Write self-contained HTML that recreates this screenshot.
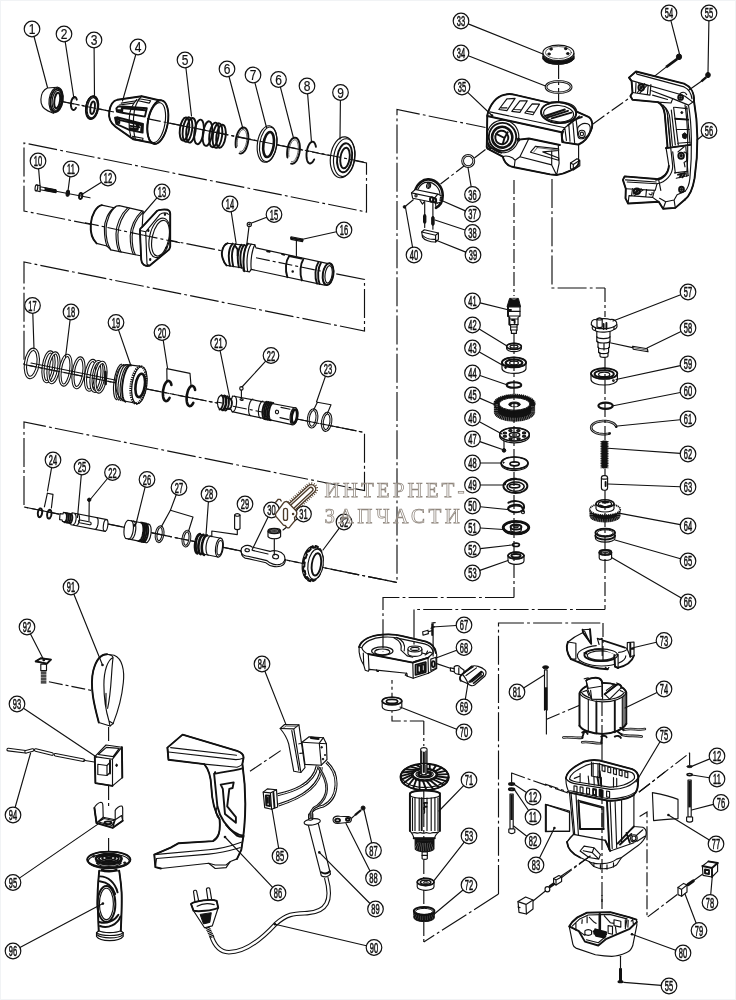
<!DOCTYPE html>
<html lang="ru"><head><meta charset="utf-8"><title>Схема перфоратора</title>
<style>
html,body{margin:0;padding:0;background:#fff;}
body{width:736px;height:1000px;overflow:hidden;font-family:"Liberation Sans",sans-serif;}
svg{display:block;will-change:transform}
.l{fill:none;stroke:#111;stroke-width:1.15;stroke-linecap:round;stroke-linejoin:round}
.w{fill:#fff;stroke:#111;stroke-width:1.15;stroke-linejoin:round}
.k{fill:#111;stroke:#111;stroke-width:1;stroke-linejoin:round}
.h{fill:none;stroke:#111;stroke-width:1.9;stroke-linecap:round;stroke-linejoin:round}
.hh{fill:none;stroke:#111;stroke-width:2.6;stroke-linecap:round;stroke-linejoin:round}
.f{fill:none;stroke:#222;stroke-width:.7;stroke-linecap:round;stroke-linejoin:round}
.d{fill:none;stroke:#111;stroke-width:1.15;stroke-dasharray:29 3.2 2.8 3.2}
.d2{fill:none;stroke:#111;stroke-width:1.15;stroke-dasharray:14 3 3 3}
.b{fill:#fff;stroke:#111;stroke-width:1.2}
.t{font-family:"Liberation Sans",sans-serif;font-size:15px;text-anchor:middle;fill:#111;stroke:#111;stroke-width:.55}
.t1{stroke-width:.2}
.wm{font-family:"Liberation Serif",serif;font-size:21px;fill:#fff;fill-opacity:.5;stroke:#8f867d;stroke-width:.75}
</style></head>
<body>
<svg width="736" height="1000" viewBox="0 0 736 1000">
<rect x="0" y="0" width="736" height="1000" fill="#fff"/>
<polyline class="d" points="50.0,99.0 366.5,163.0 366.5,212.0 24.0,143.0 24.0,211.0 364.5,279.5 364.5,331.0 24.0,262.0 24.0,364.5 364.5,432.5 364.5,490.6 24.0,422.0 24.0,507.0 397.0,582.5 397.0,109.5 485.5,127.5"/>
<polyline class="d2" points="485.5,149.5 440.5,184.0"/>
<polyline class="d" points="552.0,179.0 552.0,288.0 605.0,288.0"/>
<polyline class="d2" points="558.6,65.0 558.6,104.0"/>
<polyline class="d2" points="593.0,124.0 632.0,96.0"/>
<polyline class="d" points="498.5,894.0 498.5,623.0 603.0,623.0"/>
<polyline class="d" points="498.5,894.0 423.8,942.0"/>
<polyline class="d2" points="423.8,721.0 392.0,721.0 392.0,680.0"/>
<path class="w" d="M 47.4,88.0 L 57.2,87.2 L 53.4,113.3 L 47.9,110.9 C 43.0,108.7 40.7,104.3 40.9,99.5 C 41.1,94.6 43.6,89.7 47.4,88.0 Z"/>
<ellipse class="w" cx="56.1" cy="100.0" rx="7.0" ry="12.8" transform="rotate(8 56.1 100.0)"/>
<ellipse class="h" cx="56.4" cy="100.1" rx="5.9" ry="11.5" transform="rotate(8 56.4 100.1)"/>
<ellipse class="l" cx="56.8" cy="100.3" rx="4.6" ry="10.0" transform="rotate(8 56.8 100.3)"/>
<ellipse class="h" cx="57.2" cy="100.5" rx="2.8" ry="7.8" transform="rotate(8 57.2 100.5)"/>
<polyline class="h" points="76.0,107.7 75.5,108.5 75.0,109.2 74.5,109.6 74.0,109.9 73.4,110.0 72.9,109.8 72.4,109.5 72.0,109.0 71.6,108.3 71.3,107.5 71.1,106.5 70.9,105.4 70.9,104.3 71.0,103.2 71.2,102.0 71.4,100.9 71.8,99.9 72.2,99.0 72.6,98.3 73.1,97.7 73.7,97.2 74.2,97.0 74.8,97.0 75.3,97.2 75.8,97.6 76.2,98.1 76.5,98.9 76.8,99.7"/>
<ellipse class="w" cx="92.0" cy="107.6" rx="6.3" ry="11.7" transform="rotate(8 92.0 107.6)"/>
<ellipse class="h" cx="92.1" cy="107.6" rx="6.1" ry="11.5" transform="rotate(8 92.1 107.6)"/>
<ellipse class="l" cx="92.3" cy="107.7" rx="5.0" ry="10.2" transform="rotate(8 92.3 107.7)"/>
<ellipse class="h" cx="92.6" cy="107.8" rx="2.2" ry="6.3" transform="rotate(8 92.6 107.8)"/>
<path class="w" d="M 117.4,99.7 L 141.6,96.2 L 161.1,100.7 C 165.9,104.0 167.8,113.5 166.8,124.9 C 165.9,134.5 161.1,143.0 152.6,143.0 L 133.5,139.4 L 115.5,126.8 C 110.7,123.0 108.3,117.3 109.3,111.6 C 110.2,105.0 113.6,100.7 117.4,99.7 Z"/>
<path class="h" d="M 117.4,99.7 L 141.6,96.2 L 161.1,100.7 M 115.5,126.8 L 133.5,139.4 L 152.6,143.0 M 117.4,99.7 C 113.6,100.7 110.2,105.0 109.3,111.6 C 108.3,117.3 110.7,123.0 115.5,126.8"/>
<ellipse class="w" cx="157.8" cy="122.1" rx="10.0" ry="22.1" transform="rotate(10 157.8 122.1)"/>
<ellipse class="h" cx="157.8" cy="122.1" rx="10.0" ry="22.1" transform="rotate(10 157.8 122.1)"/>
<ellipse class="l" cx="156.6" cy="122.6" rx="8.4" ry="20.2" transform="rotate(10 156.6 122.6)"/>
<path class="l" d="M 136.9,99.3 C 132.6,104.0 129.3,111.6 129.3,118.3 C 128.8,125.9 129.5,131.6 130.7,135.9 M 141.6,96.2 C 137.3,100.2 134.0,108.8 133.5,118.3 C 133.1,127.8 134.0,134.5 135.4,139.7"/>
<path class="h" d="M 116.4,108.3 L 118.3,106.4 L 122.1,106.7 L 121.2,112.6 L 116.9,111.6 Z M 122.6,106.4 L 146.8,108.3 L 144.9,116.6 L 122.1,112.8 Z M 124.0,108.3 L 144.9,110.2 M 116.9,109.9 L 121.4,110.5"/>
<path class="h" d="M 115.0,117.8 L 117.8,117.3 L 143.0,124.0 L 142.6,132.6 L 128.8,129.7 L 116.4,124.0 Z M 116.9,119.2 L 119.3,119.7 L 119.3,123.0 L 116.9,122.1 Z M 120.2,120.2 L 141.6,125.4 L 141.1,130.7 M 130.2,125.9 L 139.2,127.3 M 136.9,125.4 L 139.2,127.3 L 136.4,128.9 M 130.2,128.3 L 137.8,129.5"/>
<path class="l" d="M 139.2,98.8 L 150.7,100.7 L 149.2,103.1 L 138.3,100.7 Z M 132.6,136.4 L 143.0,138.3 L 142.6,140.4 L 133.5,138.8 Z M 121.2,103.1 L 136.4,100.7 M 119.3,105.0 L 133.5,103.1"/>
<ellipse class="h" cx="184.5" cy="129.0" rx="4.6" ry="11.6" transform="rotate(8 184.5 129.0)"/>
<ellipse class="h" cx="187.5" cy="129.6" rx="4.6" ry="12.4" transform="rotate(8 187.5 129.6)"/>
<ellipse class="h" cx="191.0" cy="130.3" rx="4.6" ry="12.4" transform="rotate(8 191.0 130.3)"/>
<ellipse class="h" cx="199.0" cy="131.9" rx="4.6" ry="12.4" transform="rotate(8 199.0 131.9)"/>
<ellipse class="h" cx="207.5" cy="133.6" rx="4.6" ry="12.4" transform="rotate(8 207.5 133.6)"/>
<ellipse class="h" cx="214.0" cy="134.9" rx="4.6" ry="12.4" transform="rotate(8 214.0 134.9)"/>
<ellipse class="h" cx="217.5" cy="135.6" rx="4.6" ry="12.4" transform="rotate(8 217.5 135.6)"/>
<ellipse class="h" cx="221.0" cy="136.3" rx="4.6" ry="11.6" transform="rotate(8 221.0 136.3)"/>
<polyline class="h" points="235.9,147.3 235.6,145.0 235.6,142.6 235.8,140.0 236.2,137.5 236.9,135.1 237.7,132.9 238.7,131.0 239.8,129.5 241.0,128.3 242.3,127.6 243.5,127.4 244.7,127.7 245.7,128.4 246.7,129.6 247.4,131.2 248.0,133.2 248.3,135.4 248.4,137.8 248.3,140.3 247.9,142.8 247.3,145.3 246.5,147.5 245.6,149.5 244.5,151.2 243.3,152.4 242.1,153.2 240.8,153.6 239.6,153.4"/>
<polyline class="f" points="237.4,146.2 237.2,144.3 237.2,142.3 237.4,140.2 237.8,138.1 238.3,136.1 238.9,134.3 239.7,132.7 240.5,131.4 241.4,130.4 242.4,129.8 243.3,129.6 244.1,129.8 244.9,130.4 245.6,131.4 246.1,132.7 246.5,134.3 246.8,136.2 246.8,138.2 246.7,140.3 246.4,142.4 245.9,144.4 245.3,146.3 244.5,147.9 243.7,149.3 242.8,150.4 241.9,151.1 241.0,151.4 240.1,151.3"/>
<polyline class="h" points="287.4,157.5 287.1,155.2 287.1,152.8 287.3,150.2 287.7,147.7 288.4,145.3 289.2,143.1 290.2,141.2 291.3,139.7 292.5,138.5 293.8,137.8 295.0,137.6 296.2,137.9 297.2,138.6 298.2,139.8 298.9,141.4 299.5,143.4 299.8,145.6 299.9,148.0 299.8,150.5 299.4,153.0 298.8,155.5 298.0,157.7 297.1,159.7 296.0,161.4 294.8,162.6 293.6,163.4 292.3,163.8 291.1,163.6"/>
<polyline class="f" points="288.9,156.4 288.7,154.5 288.7,152.5 288.9,150.4 289.3,148.3 289.8,146.3 290.4,144.5 291.2,142.9 292.0,141.6 292.9,140.6 293.9,140.0 294.8,139.8 295.6,140.0 296.4,140.6 297.1,141.6 297.6,142.9 298.0,144.5 298.3,146.4 298.3,148.4 298.2,150.5 297.9,152.6 297.4,154.6 296.8,156.5 296.0,158.1 295.2,159.5 294.3,160.6 293.4,161.3 292.5,161.6 291.6,161.5"/>
<ellipse class="w" cx="267.0" cy="144.0" rx="9.6" ry="18.4" transform="rotate(8 267.0 144.0)"/>
<ellipse class="l" cx="268.3" cy="144.3" rx="8.6" ry="17.4" transform="rotate(8 268.3 144.3)"/>
<ellipse class="hh" cx="268.6" cy="144.5" rx="5.2" ry="12.6" transform="rotate(8 268.6 144.5)"/>
<polyline class="h" points="314.2,159.4 313.4,160.8 312.6,162.0 311.7,162.8 310.9,163.3 310.0,163.5 309.2,163.3 308.5,162.8 307.8,161.9 307.3,160.8 306.9,159.3 306.6,157.7 306.5,155.9 306.5,153.9 306.7,152.0 307.1,150.0 307.6,148.1 308.2,146.4 308.9,144.9 309.7,143.6 310.5,142.7 311.4,142.0 312.3,141.7 313.1,141.8 313.9,142.2 314.5,142.9 315.1,144.0 315.6,145.3 315.9,146.9"/>
<ellipse class="w" cx="342.5" cy="157.3" rx="12.0" ry="20.6" transform="rotate(8 342.5 157.3)"/>
<ellipse class="l" cx="344.3" cy="157.6" rx="10.6" ry="19.0" transform="rotate(8 344.3 157.6)"/>
<ellipse class="h" cx="344.6" cy="157.8" rx="7.4" ry="14.6" transform="rotate(8 344.6 157.8)"/>
<ellipse class="h" cx="345.0" cy="158.0" rx="4.6" ry="10.4" transform="rotate(8 345.0 158.0)"/>
<line class="l" x1="56.0" y1="191.2" x2="90.0" y2="197.8"/>
<path class="w" d="M36.2,185 L40.2,185.6 L40.2,191.6 L36.2,190.8 Z"/>
<ellipse class="w" cx="36.4" cy="187.9" rx="1.3" ry="3.0" transform="rotate(8 36.4 187.9)"/>
<path class="w" d="M40.2,186.8 L56,189.8 L56,192.6 L40.2,189.8 Z"/>
<path class="k" d="M45,187.9 L56,190 L56,192.4 L45,190.4 Z"/>
<ellipse class="k" cx="67.8" cy="193.3" rx="1.7" ry="3.0" transform="rotate(8 67.8 193.3)"/>
<ellipse class="h" cx="80.7" cy="196.0" rx="1.6" ry="3.0" transform="rotate(8 80.7 196.0)"/>
<path class="w" d="M 101.8,205.1 L 114.0,207.7 C 115.3,206.4 117.3,205.6 119.2,205.6 L 143.1,211.1 L 140.5,255.7 L 110.8,249.9 L 106.9,246.0 L 96.6,243.4 C 92.1,238.9 90.2,231.1 90.8,224.0 C 91.5,214.4 96.6,206.0 101.8,205.1 Z"/>
<path class="h" d="M 101.8,205.1 C 96.6,206.0 91.5,214.4 90.8,224.0 C 90.2,231.1 92.1,238.9 96.6,243.4"/>
<path class="l" d="M 114.0,207.7 C 108.2,211.8 104.4,220.8 104.4,228.6 C 104.4,236.3 105.7,242.8 106.9,246.0 M 115.7,206.9 C 110.2,211.1 106.3,220.8 106.0,228.8 C 105.9,237.6 108.2,246.0 110.8,249.9"/>
<path class="l" d="M 127.6,207.9 C 120.5,214.4 116.2,224.7 116.0,233.7 C 116.0,241.5 117.3,247.9 119.2,251.8 M 129.5,208.4 C 122.4,215.0 118.2,225.3 117.9,234.4 C 117.9,242.1 119.2,248.6 121.1,252.3"/>
<path class="l" d="M 141.8,211.1 C 134.7,217.6 130.4,227.3 130.2,235.7 C 130.2,243.4 131.5,250.5 133.4,254.4 M 143.3,211.8 C 136.6,218.2 132.4,227.9 132.1,236.3 C 132.1,244.1 133.4,251.2 135.3,254.6"/>
<path class="w" d="M 141.8,227.3 L 157.3,210.7 C 159.2,209.5 165.0,209.2 167.6,209.8 C 169.5,210.5 170.2,211.8 170.2,213.7 L 170.2,246.6 C 169.9,248.6 168.9,249.9 167.6,250.8 L 149.5,265.7 C 147.0,266.3 145.0,265.7 143.7,264.7 C 141.8,263.4 141.3,261.5 141.2,259.5 L 139.9,230.5 C 139.9,228.8 140.8,227.9 141.8,227.3 Z"/>
<path class="h" d="M 141.8,227.3 L 157.3,210.7 C 159.2,209.5 165.0,209.2 167.6,209.8 C 169.5,210.5 170.2,211.8 170.2,213.7 L 170.2,246.6 C 169.9,248.6 168.9,249.9 167.6,250.8 L 149.5,265.7 C 147.0,266.3 145.0,265.7 143.7,264.7 C 141.8,263.4 141.3,261.5 141.2,259.5 L 139.9,230.5 C 139.9,228.8 140.8,227.9 141.8,227.3 Z"/>
<path class="l" d="M 139.9,230.5 L 145.7,231.8 L 147.0,264.1 M 145.7,231.8 L 159.9,214.4 C 162.4,212.4 167.6,212.4 168.3,214.4 M 147.0,264.1 L 149.5,265.7"/>
<ellipse class="l" cx="159.6" cy="237.9" rx="10.1" ry="20.1" transform="rotate(12 159.6 237.9)"/>
<ellipse class="l" cx="160.5" cy="238.2" rx="8.3" ry="18.1" transform="rotate(12 160.5 238.2)"/>
<ellipse class="l" cx="148.3" cy="230.5" rx="0.6" ry="0.9" transform="rotate(8 148.3 230.5)"/>
<ellipse class="l" cx="165.0" cy="214.4" rx="0.6" ry="0.9" transform="rotate(8 165.0 214.4)"/>
<ellipse class="l" cx="150.2" cy="259.5" rx="0.6" ry="0.9" transform="rotate(8 150.2 259.5)"/>
<ellipse class="l" cx="166.3" cy="247.9" rx="0.6" ry="0.9" transform="rotate(8 166.3 247.9)"/>
<line class="d2" x1="143.7" y1="235.3" x2="180.0" y2="242.8"/>
<path class="w" d="M 227.4,243.3 L 245.9,245.4 L 247.7,243.6 L 254.8,244.7 L 256.0,247.9 L 328.1,263.6 L 324.5,285.1 L 251.2,269.4 L 249.5,271.9 L 243.3,270.8 L 242.9,268.0 L 226.5,265.4 C 223.0,261.8 221.2,254.8 222.1,251.2 C 223.0,246.8 224.7,244.2 227.4,243.3 Z"/>
<path class="h" d="M 227.4,243.3 C 224.7,244.2 223.0,246.8 222.1,251.2 C 221.2,254.8 223.0,261.8 226.5,265.4"/>
<path class="h" d="M 232.7,243.6 C 229.1,247.7 227.7,255.6 230.0,265.9 M 235.8,244.0 C 232.3,248.0 230.9,256.0 233.2,266.4"/>
<path class="h" d="M 241.5,244.7 C 238.0,248.6 236.6,257.4 238.9,267.3 M 244.2,245.0 C 240.6,248.9 239.2,257.8 241.5,267.7"/>
<path class="l" d="M 247.7,243.6 C 244.2,248.6 242.4,259.2 244.2,271.2 M 251.2,244.2 C 247.7,249.1 245.9,259.7 247.7,271.5 M 254.8,244.7 C 252.1,249.5 250.3,260.1 251.2,269.4"/>
<path class="h" d="M 247.7,243.6 C 244.2,248.6 242.4,259.2 244.2,271.2"/>
<path class="h" d="M 289.2,256.0 C 285.7,260.9 284.8,269.8 287.4,277.2 M 303.3,259.2 C 300.2,264.1 299.5,273.3 301.9,280.4"/>
<path class="h" d="M 318.4,262.3 C 315.2,267.1 314.3,276.8 317.1,283.6 M 321.0,262.7 C 317.8,267.7 317.1,277.2 319.6,284.1"/>
<ellipse class="w" cx="328.1" cy="274.2" rx="5.3" ry="11.0" transform="rotate(8 328.1 274.2)"/>
<ellipse class="h" cx="328.1" cy="274.2" rx="5.3" ry="11.0" transform="rotate(8 328.1 274.2)"/>
<ellipse class="l" cx="328.6" cy="274.4" rx="3.5" ry="8.8" transform="rotate(8 328.6 274.4)"/>
<ellipse class="l" cx="292.7" cy="271.5" rx="0.7" ry="0.7"/>
<path class="h" d="M 267.1,251.2 L 269.8,251.7 M 282.1,254.2 L 284.3,254.8 M 235.8,246.8 L 237.6,249.5 L 237.6,255.6 M 289.2,256.0 L 301.6,258.6"/>
<polyline class="d2" points="256.0,257.8 322.8,271.5"/>
<ellipse class="w" cx="249.3" cy="224.4" rx="2.1" ry="2.1"/>
<ellipse class="k" cx="249.3" cy="224.4" rx="0.7" ry="0.7"/>
<line class="l" x1="249.0" y1="226.6" x2="246.8" y2="244.4"/>
<path class="w" d="M291,236.8 L302.6,239 L302.6,241.6 L291,239.4 Z"/>
<line class="h" x1="291.0" y1="238.0" x2="302.6" y2="240.3"/>
<line class="l" x1="296.4" y1="241.0" x2="296.4" y2="255.6"/>
<polyline class="d2" points="85.0,222.7 143.7,235.3"/>
<ellipse cx="31.8" cy="363.4" rx="6.2" ry="14.2" transform="rotate(8 31.8 363.4)" fill="none" stroke="#111" stroke-width="3.4"/>
<ellipse cx="31.8" cy="363.4" rx="6.2" ry="14.2" transform="rotate(8 31.8 363.4)" fill="none" stroke="#fff" stroke-width="1.3"/>
<ellipse cx="48.5" cy="366.8" rx="5.2" ry="15" transform="rotate(8 48.5 366.8)" fill="none" stroke="#111" stroke-width="3.2"/>
<ellipse cx="48.5" cy="366.8" rx="5.2" ry="15" transform="rotate(8 48.5 366.8)" fill="none" stroke="#fff" stroke-width="1.1"/>
<ellipse cx="53.5" cy="367.8" rx="5.2" ry="15" transform="rotate(8 53.5 367.8)" fill="none" stroke="#111" stroke-width="3.2"/>
<ellipse cx="53.5" cy="367.8" rx="5.2" ry="15" transform="rotate(8 53.5 367.8)" fill="none" stroke="#fff" stroke-width="1.1"/>
<ellipse cx="65.5" cy="370.2" rx="5.2" ry="15" transform="rotate(8 65.5 370.2)" fill="none" stroke="#111" stroke-width="3.2"/>
<ellipse cx="65.5" cy="370.2" rx="5.2" ry="15" transform="rotate(8 65.5 370.2)" fill="none" stroke="#fff" stroke-width="1.1"/>
<ellipse cx="78.5" cy="372.8" rx="5.2" ry="15" transform="rotate(8 78.5 372.8)" fill="none" stroke="#111" stroke-width="3.2"/>
<ellipse cx="78.5" cy="372.8" rx="5.2" ry="15" transform="rotate(8 78.5 372.8)" fill="none" stroke="#fff" stroke-width="1.1"/>
<ellipse cx="91" cy="375.3" rx="5.2" ry="15" transform="rotate(8 91 375.3)" fill="none" stroke="#111" stroke-width="3.2"/>
<ellipse cx="91" cy="375.3" rx="5.2" ry="15" transform="rotate(8 91 375.3)" fill="none" stroke="#fff" stroke-width="1.1"/>
<ellipse cx="96.5" cy="376.40000000000003" rx="5.2" ry="15" transform="rotate(8 96.5 376.40000000000003)" fill="none" stroke="#111" stroke-width="3.2"/>
<ellipse cx="96.5" cy="376.40000000000003" rx="5.2" ry="15" transform="rotate(8 96.5 376.40000000000003)" fill="none" stroke="#fff" stroke-width="1.1"/>
<ellipse cx="100.5" cy="377.2" rx="5.2" ry="15" transform="rotate(8 100.5 377.2)" fill="none" stroke="#111" stroke-width="3.2"/>
<ellipse cx="100.5" cy="377.2" rx="5.2" ry="15" transform="rotate(8 100.5 377.2)" fill="none" stroke="#fff" stroke-width="1.1"/>
<path class="hh" d="M105.4,372 L105.6,384 "/>
<line class="l" x1="31.0" y1="363.0" x2="120.0" y2="381.0"/>
<path class="w" d="M127,364.6 L141,366.4 L137.6,403.6 L124.4,401 C117,398 114.6,388 116,378 C117,370 121,364.6 127,364.6 Z"/>
<polyline class="l" points="116.6,399.7 116.1,399.3 115.6,398.8 115.1,398.1 114.7,397.2 114.3,396.1 114.1,394.8 113.8,393.5 113.7,392.0 113.5,390.3 113.5,388.6 113.5,386.8 113.7,385.0 113.8,383.1 114.1,381.2 114.4,379.3 114.7,377.5 115.1,375.7 115.6,374.0 116.1,372.3 116.6,370.8 117.2,369.4 117.8,368.1 118.4,367.0 119.1,366.1 119.7,365.3 120.4,364.7 121.0,364.4 121.6,364.2"/>
<polyline class="l" points="118.8,400.1 118.3,399.8 117.8,399.2 117.3,398.5 116.9,397.6 116.5,396.5 116.3,395.3 116.0,393.9 115.9,392.4 115.7,390.8 115.7,389.1 115.7,387.3 115.9,385.4 116.0,383.6 116.3,381.7 116.6,379.8 116.9,377.9 117.3,376.1 117.8,374.4 118.3,372.8 118.8,371.2 119.4,369.8 120.0,368.6 120.6,367.5 121.3,366.5 121.9,365.8 122.6,365.2 123.2,364.8 123.8,364.6"/>
<polyline class="l" points="121.0,400.6 120.5,400.2 120.0,399.7 119.5,399.0 119.1,398.0 118.7,397.0 118.5,395.7 118.2,394.3 118.1,392.8 117.9,391.2 117.9,389.5 117.9,387.7 118.1,385.9 118.2,384.0 118.5,382.1 118.8,380.2 119.1,378.4 119.5,376.6 120.0,374.8 120.5,373.2 121.0,371.7 121.6,370.3 122.2,369.0 122.8,367.9 123.5,367.0 124.1,366.2 124.8,365.6 125.4,365.2 126.0,365.1"/>
<polyline class="l" points="123.2,401.0 122.7,400.7 122.2,400.1 121.7,399.4 121.3,398.5 120.9,397.4 120.7,396.2 120.4,394.8 120.3,393.3 120.1,391.7 120.1,389.9 120.1,388.2 120.3,386.3 120.4,384.4 120.7,382.5 121.0,380.7 121.3,378.8 121.7,377.0 122.2,375.3 122.7,373.6 123.2,372.1 123.8,370.7 124.4,369.4 125.0,368.3 125.7,367.4 126.3,366.6 127.0,366.1 127.6,365.7 128.2,365.5"/>
<polyline class="h" points="125.5,401.7 124.9,401.3 124.4,400.8 123.9,400.0 123.4,399.1 123.1,397.9 122.7,396.7 122.5,395.2 122.3,393.7 122.2,392.0 122.1,390.2 122.1,388.4 122.2,386.5 122.4,384.5 122.7,382.6 123.0,380.6 123.3,378.7 123.8,376.8 124.2,375.1 124.8,373.4 125.4,371.8 126.0,370.3 126.6,369.0 127.3,367.9 128.0,366.9 128.6,366.1 129.3,365.6 130.0,365.2 130.7,365.0"/>
<ellipse class="w" cx="139.4" cy="385.2" rx="7.4" ry="18.6" transform="rotate(8 139.4 385.2)"/>
<ellipse cx="138.4" cy="385" rx="7.4" ry="18.6" transform="rotate(8 138.4 385)" fill="none" stroke="#111" stroke-width="2.6" stroke-dasharray="1.2 1"/>
<ellipse class="hh" cx="140.2" cy="385.4" rx="4.6" ry="11.8" transform="rotate(8 140.2 385.4)"/>
<polyline class="hh" points="169.6,397.9 168.9,399.1 168.2,400.0 167.4,400.7 166.6,401.0 165.9,401.1 165.2,400.8 164.5,400.3 164.0,399.5 163.5,398.4 163.2,397.0 163.0,395.5 162.9,393.9 163.0,392.2 163.1,390.4 163.5,388.7 163.9,387.0 164.4,385.4 165.0,384.1 165.7,382.9 166.4,382.0 167.2,381.3 168.0,381.0 168.7,380.9 169.4,381.2 170.1,381.7 170.6,382.5 171.1,383.6 171.4,385.0"/>
<polyline class="hh" points="193.3,402.9 192.6,404.1 191.9,405.0 191.1,405.7 190.3,406.0 189.6,406.1 188.9,405.8 188.2,405.3 187.7,404.5 187.2,403.4 186.9,402.0 186.7,400.5 186.6,398.9 186.7,397.2 186.8,395.4 187.2,393.7 187.6,392.0 188.1,390.4 188.7,389.1 189.4,387.9 190.1,387.0 190.9,386.3 191.7,386.0 192.4,385.9 193.1,386.2 193.8,386.7 194.3,387.5 194.8,388.6 195.1,390.0"/>
<polyline class="l" points="167.0,380.5 166.8,368.6 190.0,373.4 191.0,385.4"/>
<path class="w" d="M221,395.4 L226.4,396.4 L226.2,398 L231.6,399 L232.6,396 L296,408 L292,424.6 L232,411.6 L231,409.4 L225,408.4 L224.6,410 L219.4,409 C216.4,406 217,397 221,395.4 Z"/>
<polyline class="h" points="221.6,395.3 221.9,395.5 222.2,395.7 222.4,396.0 222.6,396.4 222.8,396.8 223.0,397.3 223.1,397.9 223.2,398.5 223.3,399.1 223.3,399.8 223.3,400.5 223.3,401.3 223.3,402.0 223.2,402.8 223.1,403.5 222.9,404.3 222.7,405.0 222.5,405.7 222.3,406.3 222.0,406.9 221.8,407.5 221.5,408.0 221.2,408.4 220.9,408.8 220.6,409.1 220.3,409.3 219.9,409.5 219.6,409.5"/>
<polyline class="hh" points="224.4,395.8 224.7,396.0 225.0,396.2 225.2,396.5 225.4,396.9 225.6,397.3 225.8,397.8 225.9,398.4 226.0,399.0 226.1,399.6 226.1,400.3 226.1,401.0 226.1,401.8 226.1,402.5 226.0,403.3 225.9,404.0 225.7,404.8 225.5,405.5 225.3,406.2 225.1,406.8 224.8,407.4 224.6,408.0 224.3,408.5 224.0,408.9 223.7,409.3 223.4,409.6 223.1,409.8 222.7,410.0 222.4,410.0"/>
<polyline class="h" points="227.2,396.3 227.5,396.5 227.8,396.7 228.0,397.0 228.2,397.4 228.4,397.8 228.6,398.3 228.7,398.9 228.8,399.5 228.9,400.1 228.9,400.8 228.9,401.5 228.9,402.3 228.9,403.0 228.8,403.8 228.7,404.5 228.5,405.3 228.3,406.0 228.1,406.7 227.9,407.3 227.6,407.9 227.4,408.5 227.1,409.0 226.8,409.4 226.5,409.8 226.2,410.1 225.9,410.3 225.5,410.5 225.2,410.5"/>
<polyline class="h" points="230.3,399.1 230.5,399.2 230.8,399.4 231.0,399.6 231.2,399.8 231.3,400.2 231.5,400.5 231.6,400.9 231.7,401.3 231.8,401.8 231.9,402.3 231.9,402.8 231.9,403.3 231.8,403.8 231.8,404.3 231.7,404.9 231.6,405.4 231.4,405.9 231.3,406.3 231.1,406.8 230.9,407.2 230.7,407.6 230.5,407.9 230.2,408.2 230.0,408.5 229.7,408.7 229.4,408.8 229.2,408.9 228.9,409.0"/>
<polyline class="l" points="234.6,396.1 234.9,396.2 235.2,396.4 235.5,396.7 235.7,397.1 236.0,397.6 236.2,398.2 236.3,398.8 236.4,399.5 236.5,400.2 236.6,401.0 236.6,401.8 236.5,402.7 236.5,403.5 236.4,404.4 236.2,405.3 236.1,406.1 235.9,407.0 235.6,407.7 235.4,408.5 235.1,409.2 234.8,409.8 234.4,410.4 234.1,410.8 233.8,411.2 233.4,411.6 233.1,411.8 232.7,411.9 232.4,411.9"/>
<polyline class="l" points="250.6,415.6 250.2,415.5 249.9,415.2 249.7,414.9 249.4,414.4 249.2,413.9 249.0,413.3 248.9,412.7 248.8,412.0 248.7,411.2 248.6,410.4 248.6,409.6 248.7,408.7 248.7,407.8 248.8,407.0 249.0,406.1 249.1,405.2 249.4,404.4 249.6,403.6 249.9,402.8 250.1,402.1 250.5,401.5 250.8,400.9 251.1,400.4 251.5,399.9 251.8,399.6 252.2,399.3 252.5,399.2 252.9,399.1"/>
<polyline class="l" points="260.5,418.0 260.2,417.9 259.9,417.6 259.6,417.2 259.3,416.8 259.1,416.3 258.9,415.7 258.7,415.0 258.6,414.3 258.5,413.5 258.4,412.7 258.4,411.8 258.5,410.9 258.5,410.0 258.6,409.1 258.8,408.2 259.0,407.3 259.2,406.5 259.4,405.7 259.7,404.9 260.0,404.2 260.3,403.5 260.7,402.9 261.0,402.4 261.4,401.9 261.8,401.6 262.2,401.3 262.5,401.2 262.9,401.1"/>
<polyline class="h" points="264.5,419.0 264.2,418.9 263.8,418.6 263.5,418.2 263.3,417.8 263.1,417.2 262.9,416.6 262.7,415.9 262.6,415.2 262.5,414.4 262.4,413.6 262.4,412.7 262.5,411.8 262.5,410.9 262.6,409.9 262.8,409.0 263.0,408.1 263.2,407.2 263.4,406.4 263.7,405.6 264.0,404.8 264.3,404.2 264.7,403.6 265.1,403.0 265.4,402.6 265.8,402.2 266.2,401.9 266.6,401.8 266.9,401.7"/>
<polyline class="h" points="266.1,419.4 265.8,419.2 265.4,418.9 265.1,418.5 264.9,418.1 264.7,417.6 264.5,416.9 264.3,416.3 264.2,415.5 264.1,414.7 264.0,413.9 264.0,413.0 264.1,412.1 264.1,411.2 264.2,410.2 264.4,409.3 264.6,408.4 264.8,407.5 265.0,406.7 265.3,405.9 265.6,405.2 265.9,404.5 266.3,403.9 266.7,403.3 267.0,402.9 267.4,402.5 267.8,402.3 268.2,402.1 268.5,402.0"/>
<polyline class="h" points="267.7,419.7 267.4,419.5 267.0,419.2 266.7,418.9 266.5,418.4 266.3,417.9 266.1,417.3 265.9,416.6 265.8,415.8 265.7,415.0 265.6,414.2 265.6,413.3 265.7,412.4 265.7,411.5 265.8,410.6 266.0,409.6 266.2,408.7 266.4,407.9 266.6,407.0 266.9,406.2 267.2,405.5 267.5,404.8 267.9,404.2 268.3,403.7 268.6,403.2 269.0,402.8 269.4,402.6 269.8,402.4 270.1,402.3"/>
<polyline class="h" points="269.3,420.0 269.0,419.8 268.6,419.5 268.3,419.2 268.1,418.7 267.9,418.2 267.7,417.6 267.5,416.9 267.4,416.2 267.3,415.4 267.2,414.5 267.2,413.6 267.3,412.7 267.3,411.8 267.4,410.9 267.6,410.0 267.8,409.1 268.0,408.2 268.2,407.3 268.5,406.5 268.8,405.8 269.1,405.1 269.5,404.5 269.9,404.0 270.2,403.5 270.6,403.2 271.0,402.9 271.4,402.7 271.7,402.6"/>
<polyline class="h" points="270.9,420.3 270.6,420.1 270.2,419.9 269.9,419.5 269.7,419.0 269.5,418.5 269.3,417.9 269.1,417.2 269.0,416.5 268.9,415.7 268.8,414.8 268.8,414.0 268.9,413.1 268.9,412.1 269.0,411.2 269.2,410.3 269.4,409.4 269.6,408.5 269.8,407.7 270.1,406.9 270.4,406.1 270.7,405.4 271.1,404.8 271.5,404.3 271.8,403.8 272.2,403.5 272.6,403.2 273.0,403.0 273.3,403.0"/>
<ellipse class="w" cx="294.0" cy="416.2" rx="3.8" ry="8.8" transform="rotate(8 294.0 416.2)"/>
<ellipse class="hh" cx="294.4" cy="416.3" rx="2.6" ry="6.8" transform="rotate(8 294.4 416.3)"/>
<ellipse class="l" cx="277.0" cy="412.0" rx="1.6" ry="1.8" transform="rotate(8 277.0 412.0)"/>
<path class="l" d="M281,407.4 L290,409.2 M280,417.6 L288.6,419.6"/>
<ellipse class="l" cx="241.6" cy="399.6" rx="1.6" ry="0.8" transform="rotate(10 241.6 399.6)"/>
<line class="l" x1="222.0" y1="403.0" x2="217.0" y2="402.0"/>
<ellipse class="w" cx="241.4" cy="388.4" rx="1.7" ry="1.7"/>
<line class="l" x1="241.4" y1="390.2" x2="241.4" y2="398.4"/>
<ellipse cx="312.6" cy="418.4" rx="4.2" ry="8.8" transform="rotate(8 312.6 418.4)" fill="none" stroke="#111" stroke-width="2.9"/>
<ellipse cx="312.6" cy="418.4" rx="4.2" ry="8.8" transform="rotate(8 312.6 418.4)" fill="none" stroke="#fff" stroke-width="0.8"/>
<ellipse cx="326.6" cy="421.8" rx="4.2" ry="8.8" transform="rotate(8 326.6 421.8)" fill="none" stroke="#111" stroke-width="2.9"/>
<ellipse cx="326.6" cy="421.8" rx="4.2" ry="8.8" transform="rotate(8 326.6 421.8)" fill="none" stroke="#fff" stroke-width="0.8"/>
<polyline class="l" points="313.6,410.0 317.4,402.2 331.0,404.8 327.4,413.4"/>
<polyline class="h" points="42.1,513.1 41.9,514.1 41.6,515.0 41.2,515.7 40.8,516.4 40.4,516.9 39.9,517.1 39.4,517.2 38.9,517.0 38.5,516.6 38.2,516.0 38.0,515.3 37.9,514.4 37.8,513.5 37.9,512.5 38.1,511.5 38.4,510.6 38.8,509.9 39.2,509.2 39.6,508.7 40.1,508.5 40.6,508.4 41.1,508.6 41.5,509.0 41.8,509.6 42.0,510.3 42.1,511.2 42.2,512.1 42.1,513.1"/>
<polyline class="h" points="51.4,514.5 51.2,515.5 50.9,516.4 50.5,517.1 50.1,517.8 49.7,518.3 49.2,518.5 48.7,518.6 48.2,518.4 47.8,518.0 47.5,517.4 47.3,516.7 47.2,515.8 47.1,514.9 47.2,513.9 47.4,512.9 47.7,512.0 48.1,511.3 48.5,510.6 48.9,510.1 49.4,509.9 49.9,509.8 50.4,510.0 50.8,510.4 51.1,511.0 51.3,511.7 51.4,512.6 51.5,513.5 51.4,514.5"/>
<polyline class="l" points="47.4,493.2 53.0,494.4 51.4,508.0"/>
<line class="l" x1="47.4" y1="493.2" x2="44.4" y2="506.8"/>
<path class="w" d="M60,513.6 L63,514 L63.4,512.4 L72,514 L72,512.8 L107,519.6 L105.4,531.4 L71,524.8 L70.6,523 L62.4,521.4 L62.2,520 L59.6,519.6 Z"/>
<polyline class="h" points="65.6,513.0 65.8,513.1 66.0,513.2 66.2,513.4 66.4,513.6 66.5,513.9 66.6,514.2 66.7,514.6 66.8,515.0 66.8,515.4 66.9,515.8 66.9,516.3 66.9,516.8 66.8,517.3 66.8,517.9 66.7,518.4 66.6,518.9 66.5,519.3 66.3,519.8 66.2,520.2 66.0,520.6 65.8,521.0 65.6,521.3 65.4,521.6 65.2,521.8 65.0,522.0 64.8,522.1 64.6,522.2 64.4,522.2"/>
<polyline class="h" points="67.4,513.4 67.6,513.5 67.8,513.6 68.0,513.7 68.2,514.0 68.3,514.2 68.4,514.6 68.5,514.9 68.6,515.3 68.6,515.7 68.7,516.2 68.7,516.7 68.7,517.2 68.6,517.7 68.6,518.2 68.5,518.7 68.4,519.2 68.3,519.7 68.1,520.2 68.0,520.6 67.8,521.0 67.6,521.4 67.4,521.7 67.2,522.0 67.0,522.2 66.8,522.3 66.6,522.5 66.4,522.5 66.2,522.5"/>
<polyline class="h" points="69.2,513.8 69.4,513.8 69.6,513.9 69.8,514.1 70.0,514.3 70.1,514.6 70.2,514.9 70.3,515.3 70.4,515.7 70.4,516.1 70.5,516.6 70.5,517.1 70.5,517.6 70.4,518.1 70.4,518.6 70.3,519.1 70.2,519.6 70.1,520.1 69.9,520.5 69.8,521.0 69.6,521.4 69.4,521.7 69.2,522.0 69.0,522.3 68.8,522.5 68.6,522.7 68.4,522.8 68.2,522.9 68.0,522.9"/>
<polyline class="h" points="71.0,514.1 71.2,514.2 71.4,514.3 71.6,514.5 71.8,514.7 71.9,515.0 72.0,515.3 72.1,515.6 72.2,516.0 72.2,516.5 72.3,516.9 72.3,517.4 72.3,517.9 72.2,518.4 72.2,518.9 72.1,519.4 72.0,519.9 71.9,520.4 71.7,520.9 71.6,521.3 71.4,521.7 71.2,522.1 71.0,522.4 70.8,522.7 70.6,522.9 70.4,523.1 70.2,523.2 70.0,523.2 69.8,523.2"/>
<polyline class="l" points="74.8,513.9 75.0,513.9 75.2,514.1 75.4,514.3 75.6,514.6 75.7,514.9 75.8,515.3 75.9,515.7 76.0,516.1 76.1,516.6 76.1,517.2 76.1,517.7 76.1,518.3 76.1,518.9 76.0,519.5 75.9,520.1 75.8,520.6 75.6,521.2 75.5,521.7 75.3,522.2 75.1,522.7 74.9,523.1 74.7,523.5 74.5,523.8 74.2,524.1 74.0,524.3 73.8,524.4 73.5,524.5 73.3,524.6"/>
<polyline class="l" points="78.2,514.3 78.5,514.4 78.7,514.5 78.8,514.7 79.0,515.0 79.1,515.3 79.3,515.7 79.4,516.1 79.4,516.6 79.5,517.1 79.5,517.7 79.5,518.3 79.5,518.9 79.5,519.5 79.4,520.1 79.3,520.7 79.2,521.3 79.0,521.9 78.9,522.4 78.7,522.9 78.5,523.4 78.3,523.9 78.1,524.2 77.8,524.6 77.6,524.9 77.4,525.1 77.1,525.2 76.9,525.3 76.7,525.4"/>
<polyline class="l" points="96.9,517.7 97.1,517.8 97.3,517.9 97.5,518.1 97.6,518.4 97.8,518.8 97.9,519.2 98.0,519.6 98.1,520.1 98.1,520.6 98.1,521.2 98.1,521.8 98.1,522.4 98.1,523.0 98.0,523.7 97.9,524.3 97.8,524.9 97.6,525.5 97.4,526.1 97.3,526.6 97.1,527.1 96.9,527.6 96.6,528.0 96.4,528.3 96.2,528.6 96.0,528.9 95.7,529.0 95.5,529.1 95.3,529.1"/>
<ellipse class="w" cx="105.6" cy="525.4" rx="2.2" ry="5.8" transform="rotate(8 105.6 525.4)"/>
<path class="l" d="M80,520 L90,522 C91.6,522.4 91.6,525 89.6,524.8 L79.6,522.8 C78,522.4 78.4,519.8 80,520 Z"/>
<ellipse class="k" cx="89.2" cy="499.8" rx="1.7" ry="1.7"/>
<line class="l" x1="89.2" y1="501.5" x2="89.0" y2="520.4"/>
<path class="w" d="M128,520.2 L149,524.2 L146.2,542.6 L125.6,538.4 C122.8,535 123.6,522.6 128,520.2 Z"/>
<ellipse class="w" cx="147.4" cy="533.4" rx="3.6" ry="9.4" transform="rotate(8 147.4 533.4)"/>
<polyline class="l" points="131.0,520.5 131.4,520.7 131.8,520.9 132.1,521.3 132.4,521.7 132.7,522.3 132.9,523.0 133.1,523.7 133.2,524.5 133.3,525.4 133.4,526.3 133.4,527.3 133.4,528.3 133.3,529.3 133.2,530.3 133.0,531.3 132.8,532.3 132.6,533.3 132.3,534.2 132.0,535.1 131.6,535.9 131.3,536.6 130.9,537.3 130.5,537.8 130.1,538.3 129.6,538.7 129.2,538.9 128.8,539.1 128.4,539.1"/>
<polyline class="l" points="133.4,520.9 133.8,521.1 134.2,521.3 134.5,521.7 134.8,522.1 135.1,522.7 135.3,523.4 135.5,524.1 135.6,524.9 135.7,525.8 135.8,526.7 135.8,527.7 135.8,528.7 135.7,529.7 135.6,530.7 135.4,531.7 135.2,532.7 135.0,533.7 134.7,534.6 134.4,535.5 134.0,536.3 133.7,537.0 133.3,537.7 132.9,538.2 132.5,538.7 132.0,539.1 131.6,539.3 131.2,539.5 130.8,539.5"/>
<polyline class="h" points="141.0,522.5 141.4,522.7 141.8,522.9 142.1,523.3 142.4,523.7 142.7,524.3 142.9,525.0 143.1,525.7 143.2,526.5 143.3,527.4 143.4,528.3 143.4,529.3 143.4,530.3 143.3,531.3 143.2,532.3 143.0,533.3 142.8,534.3 142.6,535.3 142.3,536.2 142.0,537.1 141.6,537.9 141.3,538.6 140.9,539.3 140.5,539.8 140.1,540.3 139.6,540.7 139.2,540.9 138.8,541.1 138.4,541.1"/>
<polyline class="h" points="142.6,522.8 143.0,523.0 143.4,523.2 143.7,523.6 144.0,524.1 144.3,524.6 144.5,525.3 144.7,526.0 144.8,526.8 144.9,527.7 145.0,528.6 145.0,529.6 145.0,530.6 144.9,531.6 144.8,532.6 144.6,533.6 144.4,534.6 144.2,535.6 143.9,536.5 143.6,537.4 143.2,538.2 142.9,538.9 142.5,539.6 142.1,540.2 141.7,540.6 141.2,541.0 140.8,541.3 140.4,541.4 140.0,541.4"/>
<polyline class="h" points="144.2,523.2 144.6,523.3 145.0,523.6 145.3,523.9 145.6,524.4 145.9,524.9 146.1,525.6 146.3,526.3 146.4,527.1 146.5,528.0 146.6,528.9 146.6,529.9 146.6,530.9 146.5,531.9 146.4,532.9 146.2,534.0 146.0,535.0 145.8,535.9 145.5,536.8 145.2,537.7 144.8,538.5 144.5,539.3 144.1,539.9 143.7,540.5 143.3,541.0 142.8,541.3 142.4,541.6 142.0,541.7 141.6,541.8"/>
<polyline class="h" points="145.8,523.5 146.2,523.6 146.6,523.9 146.9,524.2 147.2,524.7 147.5,525.3 147.7,525.9 147.9,526.7 148.0,527.5 148.1,528.3 148.2,529.3 148.2,530.2 148.2,531.2 148.1,532.2 148.0,533.3 147.8,534.3 147.6,535.3 147.4,536.2 147.1,537.2 146.8,538.0 146.4,538.9 146.1,539.6 145.7,540.2 145.3,540.8 144.9,541.3 144.4,541.6 144.0,541.9 143.6,542.0 143.2,542.1"/>
<ellipse class="k" cx="134.4" cy="525.4" rx="0.8" ry="0.8" transform="rotate(8 134.4 525.4)"/>
<ellipse cx="159.6" cy="534.2" rx="3.4" ry="7.6" transform="rotate(8 159.6 534.2)" fill="none" stroke="#111" stroke-width="2.8"/>
<ellipse cx="159.6" cy="534.2" rx="3.4" ry="7.6" transform="rotate(8 159.6 534.2)" fill="none" stroke="#fff" stroke-width="0.7"/>
<ellipse cx="186.4" cy="538.6" rx="3.4" ry="7.6" transform="rotate(8 186.4 538.6)" fill="none" stroke="#111" stroke-width="2.8"/>
<ellipse cx="186.4" cy="538.6" rx="3.4" ry="7.6" transform="rotate(8 186.4 538.6)" fill="none" stroke="#fff" stroke-width="0.7"/>
<polyline class="l" points="161.4,526.6 170.4,510.3 193.0,517.0 188.6,531.0"/>
<path class="w" d="M200,534.2 L221,538.2 L218,557 L198,553 C195,549.6 196,536.6 200,534.2 Z"/>
<polyline class="hh" points="197.3,553.4 196.9,553.2 196.6,552.9 196.3,552.5 196.0,552.0 195.7,551.4 195.5,550.7 195.3,550.0 195.2,549.1 195.1,548.2 195.0,547.3 195.0,546.3 195.0,545.3 195.1,544.3 195.2,543.3 195.4,542.2 195.6,541.2 195.9,540.3 196.1,539.3 196.4,538.4 196.8,537.6 197.1,536.9 197.5,536.2 197.9,535.6 198.3,535.1 198.8,534.7 199.2,534.4 199.6,534.2 200.0,534.1"/>
<polyline class="hh" points="200.7,554.1 200.3,553.9 200.0,553.6 199.7,553.2 199.4,552.7 199.1,552.1 198.9,551.4 198.7,550.6 198.6,549.8 198.5,548.9 198.4,548.0 198.4,547.0 198.4,546.0 198.5,545.0 198.6,544.0 198.8,542.9 199.0,541.9 199.3,540.9 199.5,540.0 199.8,539.1 200.2,538.3 200.5,537.5 200.9,536.9 201.3,536.3 201.7,535.8 202.2,535.4 202.6,535.1 203.0,534.9 203.4,534.8"/>
<polyline class="hh" points="204.1,554.8 203.7,554.6 203.4,554.3 203.1,553.9 202.8,553.4 202.5,552.8 202.3,552.1 202.1,551.3 202.0,550.5 201.9,549.6 201.8,548.7 201.8,547.7 201.8,546.7 201.9,545.7 202.0,544.6 202.2,543.6 202.4,542.6 202.7,541.6 202.9,540.7 203.2,539.8 203.6,539.0 203.9,538.2 204.3,537.5 204.7,536.9 205.1,536.4 205.6,536.0 206.0,535.7 206.4,535.5 206.8,535.4"/>
<ellipse class="w" cx="219.4" cy="547.6" rx="3.8" ry="9.6" transform="rotate(8 219.4 547.6)"/>
<ellipse class="l" cx="219.8" cy="547.8" rx="2.6" ry="7.4" transform="rotate(8 219.8 547.8)"/>
<polyline class="l" points="208.3,555.2 207.9,555.0 207.6,554.7 207.3,554.3 207.0,553.8 206.7,553.2 206.5,552.5 206.3,551.8 206.2,550.9 206.1,550.0 206.0,549.1 206.0,548.1 206.0,547.1 206.1,546.1 206.2,545.1 206.4,544.0 206.6,543.0 206.9,542.1 207.1,541.1 207.4,540.2 207.8,539.4 208.1,538.7 208.5,538.0 208.9,537.4 209.3,536.9 209.8,536.5 210.2,536.2 210.6,536.0 211.0,535.9"/>
<path class="w" d="M234.6,515 L234.6,528.6 C235.6,530 239,530 240,528.6 L240,515 C239,513.2 235.6,513.2 234.6,515 Z"/>
<polyline class="l" points="240.0,515.0 240.0,515.1 239.9,515.3 239.8,515.4 239.7,515.5 239.6,515.6 239.4,515.7 239.2,515.8 239.0,515.9 238.7,516.0 238.5,516.1 238.2,516.1 237.9,516.2 237.6,516.2 237.3,516.2 237.0,516.2 236.7,516.2 236.4,516.1 236.1,516.1 235.9,516.0 235.6,515.9 235.4,515.8 235.2,515.7 235.0,515.6 234.9,515.5 234.8,515.4 234.7,515.3 234.6,515.1 234.6,515.0"/>
<polyline class="l" points="237.3,530.0 237.3,534.6 211.8,531.0 211.8,536.6"/>
<path class="w" d="M243.4,546.6 C246,544.6 250,545.2 252,547 L270,551.4 C274,549.6 281,550.8 284,555 C286,559 284.6,563 280,564.4 C276,565.4 270,564 267,560.6 L248,556.2 C244,556.6 240.6,553.6 241,550.4 C241,548.6 242,547.4 243.4,546.6 Z"/>
<path class="l" d="M241.2,551 C241,555.6 244,558.6 248,558.6 L266,562.8 C270,566.6 276.6,567.6 281,566 C284,564.8 285.4,562 285.4,559.4"/>
<ellipse class="l" cx="247.2" cy="550.2" rx="2.2" ry="1.5" transform="rotate(10 247.2 550.2)"/>
<ellipse class="l" cx="275.6" cy="556.6" rx="3.0" ry="2.2" transform="rotate(10 275.6 556.6)"/>
<path class="l" d="M252.6,550.4 L268,554"/>
<path class="w" d="M268,531 L268,536.6 C270,539.4 278.6,539.4 280.6,536.6 L280.6,531 Z"/>
<ellipse cx="274.3" cy="531" rx="6.3" ry="2.6" fill="#222" stroke="#111" stroke-width="1.2"/>
<ellipse cx="274.3" cy="531" rx="3.6" ry="1.2" fill="none" stroke="#999" stroke-width=".7"/>
<line class="l" x1="274.3" y1="539.0" x2="274.3" y2="555.0"/>
<polygon class="w" points="322.5,564.9 322.3,566.5 321.9,568.0 321.5,569.5 320.5,568.9 320.0,570.2 319.6,571.4 319.1,572.6 320.0,573.6 319.4,574.8 318.7,576.0 318.0,577.0 317.3,575.8 316.6,576.6 315.9,577.4 315.2,578.1 315.6,579.5 314.8,580.1 313.9,580.6 313.1,581.0 313.0,579.4 312.2,579.6 311.5,579.7 310.7,579.6 310.5,581.2 309.7,581.0 308.9,580.7 308.1,580.3 308.7,578.8 308.0,578.3 307.4,577.6 306.9,576.9 306.1,578.2 305.5,577.3 305.0,576.2 304.5,575.1 305.5,574.1 305.2,573.0 304.9,571.8 304.7,570.6 303.5,571.3 303.3,569.8 303.2,568.4 303.2,566.9 304.4,566.6 304.4,565.2 304.5,563.8 304.7,562.4 303.5,562.3 303.7,560.7 304.1,559.2 304.5,557.7 305.5,558.3 306.0,557.0 306.4,555.8 306.9,554.6 306.0,553.6 306.6,552.4 307.3,551.2 308.0,550.2 308.7,551.4 309.4,550.6 310.1,549.8 310.8,549.1 310.4,547.7 311.2,547.1 312.1,546.6 312.9,546.2 313.0,547.8 313.8,547.6 314.5,547.5 315.3,547.6 315.5,546.0 316.3,546.2 317.1,546.5 317.9,546.9 317.3,548.4 318.0,548.9 318.6,549.6 319.1,550.3 319.9,549.0 320.5,549.9 321.0,551.0 321.5,552.1 320.5,553.1 320.8,554.2 321.1,555.4 321.3,556.6 322.5,555.9 322.7,557.4 322.8,558.8 322.8,560.3 321.6,560.6 321.6,562.0 321.5,563.4 321.3,564.8"/>
<polygon class="h" points="322.5,564.9 322.3,566.5 321.9,568.0 321.5,569.5 320.5,568.9 320.0,570.2 319.6,571.4 319.1,572.6 320.0,573.6 319.4,574.8 318.7,576.0 318.0,577.0 317.3,575.8 316.6,576.6 315.9,577.4 315.2,578.1 315.6,579.5 314.8,580.1 313.9,580.6 313.1,581.0 313.0,579.4 312.2,579.6 311.5,579.7 310.7,579.6 310.5,581.2 309.7,581.0 308.9,580.7 308.1,580.3 308.7,578.8 308.0,578.3 307.4,577.6 306.9,576.9 306.1,578.2 305.5,577.3 305.0,576.2 304.5,575.1 305.5,574.1 305.2,573.0 304.9,571.8 304.7,570.6 303.5,571.3 303.3,569.8 303.2,568.4 303.2,566.9 304.4,566.6 304.4,565.2 304.5,563.8 304.7,562.4 303.5,562.3 303.7,560.7 304.1,559.2 304.5,557.7 305.5,558.3 306.0,557.0 306.4,555.8 306.9,554.6 306.0,553.6 306.6,552.4 307.3,551.2 308.0,550.2 308.7,551.4 309.4,550.6 310.1,549.8 310.8,549.1 310.4,547.7 311.2,547.1 312.1,546.6 312.9,546.2 313.0,547.8 313.8,547.6 314.5,547.5 315.3,547.6 315.5,546.0 316.3,546.2 317.1,546.5 317.9,546.9 317.3,548.4 318.0,548.9 318.6,549.6 319.1,550.3 319.9,549.0 320.5,549.9 321.0,551.0 321.5,552.1 320.5,553.1 320.8,554.2 321.1,555.4 321.3,556.6 322.5,555.9 322.7,557.4 322.8,558.8 322.8,560.3 321.6,560.6 321.6,562.0 321.5,563.4 321.3,564.8"/>
<ellipse class="w" cx="315.6" cy="564.2" rx="7.6" ry="15.2" transform="rotate(8 315.6 564.2)"/>
<ellipse class="h" cx="316.4" cy="564.4" rx="4.6" ry="11.2" transform="rotate(8 316.4 564.4)"/>
<polyline class="l" points="307.2,579.4 306.4,578.9 305.7,578.2 305.0,577.5 304.4,576.5 303.9,575.5 303.4,574.3 303.0,573.0 302.6,571.6 302.4,570.1 302.2,568.6 302.2,567.0 302.2,565.3 302.3,563.7 302.5,562.0 302.8,560.4 303.1,558.7 303.6,557.2 304.1,555.6 304.6,554.2 305.3,552.8 306.0,551.6 306.7,550.5 307.5,549.4 308.3,548.6 309.2,547.8 310.1,547.3 310.9,546.9 311.8,546.6"/>
<path class="w" d="M 487.3,115.2 C 489.8,104.6 496.3,96.4 504.5,94.8 C 507.7,93.8 511.0,93.8 515.1,94.8 L 548.5,102.6 C 553.4,101.3 564.8,101.3 571.3,104.6 C 573.8,105.9 576.2,108.6 577.2,111.9 L 588.4,116.8 C 592.5,119.2 593.3,125.8 590.9,130.7 C 588.4,137.2 584.4,142.1 578.6,144.5 L 578.6,163.3 C 577.8,168.2 564.8,173.9 556.6,175.0 L 550.1,174.4 L 514.2,167.3 C 509.3,166.5 504.5,163.3 502.8,156.7 L 489.0,149.4 C 486.5,148.6 486.5,147.0 486.8,145.3 Z"/>
<path class="h" d="M 487.3,115.2 C 489.8,104.6 496.3,96.4 504.5,94.8 C 507.7,93.8 511.0,93.8 515.1,94.8 L 548.5,102.6 M 577.2,111.9 L 588.4,116.8 C 592.5,119.2 593.3,125.8 590.9,130.7 C 588.4,137.2 584.4,142.1 578.6,144.5 M 578.6,163.3 C 577.8,168.2 564.8,173.9 556.6,175.0 L 550.1,174.4 L 514.2,167.3 C 509.3,166.5 504.5,163.3 502.8,156.7 L 489.0,149.4 C 486.5,148.6 486.5,147.0 486.8,145.3 L 487.3,115.2"/>
<path class="l" d="M 487.3,116.0 L 561.5,132.3 L 562.3,142.1 L 577.8,144.5 M 489.8,111.9 L 564.8,127.7 L 579.5,116.0 M 561.5,132.3 L 564.8,127.7 M 564.8,127.7 L 566.4,140.4 M 568.9,125.8 L 570.0,141.3 M 572.9,122.8 L 574.6,142.4 M 576.2,120.1 L 577.8,133.9"/>
<path class="h" d="M 487.3,116.0 L 561.5,132.3 L 562.3,142.1 L 577.8,144.5 M 519.1,139.6 L 528.9,138.5 L 559.9,145.0"/>
<path class="h" d="M 568.0,125.4 C 571.3,121.7 577.8,117.6 581.9,117.0 M 563.2,142.1 C 561.5,138.8 561.5,133.9 563.2,131.5"/>
<path class="l" d="M 498.8,109.5 L 506.9,98.9 L 515.1,98.4 L 506.9,110.6 Z M 511.8,111.4 L 519.9,100.8 L 527.3,100.8 L 519.9,112.4 Z M 524.8,113.0 L 532.2,103.9 L 539.5,104.1 L 533.0,114.7 Z M 500.9,107.8 L 506.9,107.8 M 514.2,109.5 L 520.4,109.8 M 527.3,111.4 L 533.3,112.1"/>
<ellipse class="w" cx="558.6" cy="112.7" rx="17.6" ry="10.4" transform="rotate(4 558.6 112.7)"/>
<ellipse class="h" cx="558.6" cy="112.7" rx="17.6" ry="10.4" transform="rotate(4 558.6 112.7)"/>
<ellipse class="l" cx="558.6" cy="113.7" rx="15.0" ry="8.2" transform="rotate(4 558.6 113.7)"/>
<path class="h" d="M 545.2,116.0 L 564.8,109.5 M 546.9,117.6 L 568.0,110.8 M 551.7,118.4 L 571.3,112.7"/>
<path class="l" d="M 577.8,127.7 C 580.3,124.1 584.4,122.8 587.6,123.8 C 590.1,124.9 590.9,128.2 589.6,132.3 C 587.6,137.2 582.7,139.6 579.5,138.5 C 577.5,137.2 577.2,132.3 577.8,127.7 Z"/>
<ellipse class="l" cx="581.9" cy="133.9" rx="3.3" ry="3.6"/>
<ellipse class="l" cx="581.9" cy="133.9" rx="1.6" ry="1.8"/>
<ellipse class="l" cx="502.8" cy="136.4" rx="16.0" ry="16.3" transform="rotate(-10 502.8 136.4)"/>
<ellipse class="h" cx="502.5" cy="136.9" rx="13.7" ry="14.0" transform="rotate(-10 502.5 136.9)"/>
<ellipse class="hh" cx="502.2" cy="137.2" rx="10.1" ry="10.4" transform="rotate(-10 502.2 137.2)"/>
<ellipse class="h" cx="501.8" cy="137.5" rx="6.5" ry="6.8" transform="rotate(-10 501.8 137.5)"/>
<path class="h" d="M 496.3,133.9 L 504.5,138.0 L 507.7,132.3 M 504.5,138.0 L 502.8,143.7 M 489.8,147.0 L 501.2,152.7 M 488.2,143.7 L 489.8,149.4"/>
<ellipse class="l" cx="518.5" cy="139.6" rx="1.1" ry="1.6"/>
<path class="l" d="M 519.1,139.6 L 528.9,138.5 L 559.9,145.0 M 528.9,138.5 L 519.9,156.7 M 502.8,156.7 C 506.1,155.1 512.6,156.7 515.1,160.3 L 519.9,156.7 L 551.7,164.9 L 556.6,175.0 M 515.1,160.3 L 514.2,167.3 M 551.7,164.9 L 551.7,151.0 M 558.3,145.3 L 559.1,163.3 L 556.6,175.0"/>
<path class="l" d="M 530.5,152.2 L 535.4,146.3 L 558.6,148.9 L 558.6,150.5 L 542.8,151.9 L 558.6,158.0 L 558.6,160.3 L 530.5,152.2 Z"/>
<path class="f" d="M 535.4,146.3 L 537.4,147.6 L 558.6,150.2 M 533.8,151.9 L 537.4,147.6"/>
<path class="l" d="M 570.5,162.9 L 577.0,158.7 L 579.8,160.3 L 579.8,165.7 L 573.3,170.1 L 570.5,168.5 Z M 573.3,170.1 L 573.3,164.6 L 579.8,160.3 M 570.5,162.9 L 573.3,164.6"/>
<path class="w" d="M 543.0,53.8 L 543.0,58.9 C 547.4,66.0 567.8,66.0 573.9,58.9 L 573.9,53.2 Z"/>
<path d="M 543.0,56.1 L 543.0,58.9 C 547.4,66.0 567.8,66.0 573.9,58.9 L 573.9,56.1 C 567.8,62.6 548.5,62.6 543.0,56.1 Z" fill="#111" stroke="#111" stroke-width="1"/>
<ellipse class="w" cx="558.4" cy="52.8" rx="15.5" ry="7.7"/>
<ellipse class="f" cx="558.4" cy="52.6" rx="13.0" ry="6.1"/>
<ellipse class="k" cx="551.1" cy="49.1" rx="1.4" ry="1.0"/>
<ellipse class="k" cx="565.8" cy="48.7" rx="1.4" ry="1.0"/>
<ellipse class="k" cx="549.1" cy="54.0" rx="1.4" ry="1.0"/>
<ellipse class="k" cx="567.8" cy="53.6" rx="1.4" ry="1.0"/>
<ellipse cx="558.6" cy="87" rx="12.6" ry="5.8" fill="none" stroke="#111" stroke-width="2.6"/>
<ellipse cx="558.6" cy="87" rx="12.6" ry="5.8" fill="none" stroke="#fff" stroke-width=".7"/>
<circle cx="468.2" cy="161" r="5.6" fill="#fff" stroke="#111" stroke-width="2.8"/>
<circle cx="468.2" cy="161" r="5.6" fill="none" stroke="#fff" stroke-width=".8"/>
<path class="w" d="M 415.2,190.7 C 417.0,183.3 423.1,179.1 428.6,179.4 C 436.6,179.9 442.7,187.0 442.7,195.6 C 442.7,201.7 439.6,206.0 436.0,207.8 L 435.4,201.7 Z"/>
<path class="hh" d="M 415.2,190.7 C 417.0,183.3 423.1,179.1 428.6,179.4 C 436.6,179.9 442.7,187.0 442.7,195.6 C 442.7,201.7 439.6,206.0 436.0,207.8"/>
<path class="l" d="M 417.6,190.1 C 419.5,185.2 423.7,182.1 428.0,182.1 C 434.1,182.4 439.6,187.6 440.0,194.3"/>
<ellipse class="l" cx="428.6" cy="185.8" rx="2.0" ry="2.7" transform="rotate(10 428.6 185.8)"/>
<ellipse class="l" cx="428.9" cy="186.0" rx="0.9" ry="1.5" transform="rotate(10 428.9 186.0)"/>
<path class="w" d="M 411.5,192.9 L 415.2,189.5 L 437.8,194.1 L 442.1,196.2 L 441.5,201.7 L 437.2,203.2 L 412.7,198.3 Z"/>
<path class="l" d="M 411.5,192.9 L 434.7,197.8 L 437.2,203.2 M 434.7,197.8 L 437.8,194.1 M 420.1,200.5 L 422.5,204.1 L 424.3,201.7"/>
<ellipse class="l" cx="416.0" cy="195.8" rx="1.1" ry="1.2"/>
<ellipse class="h" cx="431.7" cy="199.5" rx="1.7" ry="2.2"/>
<ellipse class="h" cx="434.7" cy="200.2" rx="1.5" ry="2.0"/>
<path class="l" d="M 440.5,197.0 L 442.1,198.0 L 441.5,201.1 L 440.0,200.5 Z"/>
<path class="l" d="M 424.7,201.7 L 424.7,227.4 M 432.9,202.9 L 432.9,229.2"/>
<path class="hh" d="M 424.7,215.4 L 424.7,222.5 M 432.9,217.3 L 432.9,224.4"/>
<path d="M 424.7,215.4 L 424.7,222.5 M 432.9,217.3 L 432.9,224.4" fill="none" stroke="#111" stroke-width="3.4"/>
<path class="w" d="M 421.7,232.0 L 424.3,229.8 L 438.4,233.0 L 438.4,239.3 L 435.6,242.0 C 430.5,242.3 424.3,240.2 422.5,237.1 Z"/>
<path class="l" d="M 421.7,232.0 L 435.6,235.3 L 438.4,233.0 M 435.6,235.3 L 435.6,242.0 M 422.5,235.3 C 425.6,238.4 431.7,239.6 435.6,239.3"/>
<ellipse class="k" cx="404.5" cy="206.9" rx="1.3" ry="1.3"/>
<path class="l" d="M 405.4,206.3 L 413.3,199.8"/>
<path class="w" d="M 629.0,77.6 L 636.0,71.5 L 684.1,83.7 C 690.2,86.3 694.6,92.5 694.0,101.2 C 698.1,123.9 698.1,153.7 694.6,178.2 C 692.8,188.7 690.2,195.6 685.0,199.5 L 675.3,207.9 L 663.1,208.8 L 658.7,201.8 L 628.1,203.5 L 625.5,198.3 L 625.8,188.7 L 622.9,179.9 L 624.6,176.4 L 656.1,179.0 C 663.1,178.2 668.3,172.9 668.9,165.9 L 666.1,148.1 L 667.5,146.7 L 664.8,114.3 C 664.0,108.2 661.3,103.8 657.8,102.1 L 632.5,99.8 L 630.4,96.0 L 632.5,92.5 L 631.6,81.1 Z"/>
<path class="h" d="M 629.0,77.6 L 636.0,71.5 L 684.1,83.7 C 690.2,86.3 694.6,92.5 694.0,101.2 M 685.0,199.5 L 675.3,207.9 L 663.1,208.8 L 658.7,201.8 L 628.1,203.5 L 625.5,198.3 L 625.8,188.7 L 622.9,179.9 L 624.6,176.4 L 656.1,179.0 M 666.1,148.1 L 667.5,146.7 L 664.8,114.3 C 664.0,108.2 661.3,103.8 657.8,102.1 L 632.5,99.8 L 630.4,96.0 L 632.5,92.5 L 631.6,81.1 L 629.0,77.6"/>
<path class="l" d="M 667.5,116.9 L 670.3,147.0 M 671.3,110.0 L 675.3,144.9 M 686.7,106.5 L 690.2,144.9 M 672.7,151.9 L 675.3,172.9 M 685.8,146.7 L 688.1,174.7 M 658.7,179.9 L 660.8,190.4 M 625.5,179.9 L 656.1,182.0"/>
<path class="l" d="M 631.6,80.6 L 679.7,94.2 L 685.0,96.3 L 692.8,102.1 M 636.0,71.5 L 636.9,74.1 L 684.1,86.9 C 688.5,89.0 691.1,92.5 691.9,98.6 M 629.0,77.6 L 631.6,80.6"/>
<path class="l" d="M 679.7,94.2 C 681.5,91.6 685.0,91.6 686.7,94.6"/>
<path class="l" d="M 632.5,92.5 L 650.0,95.1 L 650.9,84.6 M 636.0,82.8 L 635.6,92.5 M 638.6,83.7 L 648.2,85.5 L 647.4,94.2 M 651.7,90.7 L 672.7,98.6 L 671.0,103.0 L 657.8,102.1 M 652.6,95.1 L 667.5,99.5"/>
<ellipse class="h" cx="641.2" cy="87.6" rx="2.8" ry="3.1"/>
<ellipse class="k" cx="641.2" cy="87.6" rx="1.2" ry="1.4"/>
<path class="l" d="M 637.4,92.5 L 644.7,83.7 M 639.5,93.3 L 646.5,85.8"/>
<path class="l" d="M 688.5,105.1 C 691.9,123.9 692.3,153.7 689.9,178.2 C 689.2,185.2 687.6,188.7 685.0,191.3 M 694.0,101.2 L 688.5,105.1 L 672.7,98.6 M 685.0,105.1 C 688.1,123.9 688.5,153.7 686.7,176.4"/>
<path class="h" d="M 694.0,101.2 C 698.1,123.9 698.1,153.7 694.6,178.2 C 692.8,188.7 690.2,195.6 685.0,199.5"/>
<path class="l" d="M 660.8,103.8 C 664.8,106.5 667.5,111.7 667.8,116.9 L 670.6,146.7 L 672.7,165.9 C 672.7,174.7 665.7,182.5 657.0,183.8 L 627.2,182.0 M 663.1,105.1 C 667.5,109.1 669.6,113.5 669.9,118.7 L 672.4,145.8"/>
<path class="h" d="M 668.9,165.9 C 668.3,173.8 663.1,179.0 656.1,179.9"/>
<path class="l" d="M 674.5,107.3 L 687.1,108.6 M 675.3,118.7 L 688.1,119.6 M 676.2,129.2 L 689.3,129.5 M 677.6,143.2 L 689.9,142.3 M 666.1,148.1 L 690.2,144.9 M 673.6,107.3 L 678.3,144.9 M 674.5,172.9 L 687.6,171.2 M 676.2,178.2 L 688.5,175.5"/>
<path class="h" d="M 675.3,118.7 L 688.1,119.6 M 666.1,148.1 L 690.2,144.9"/>
<ellipse class="k" cx="681.8" cy="112.6" rx="1.0" ry="1.0"/>
<path class="k" d="M 682.3,134.4 L 685.0,132.7 L 687.1,135.3 L 685.8,138.8 L 682.9,137.9 Z"/>
<ellipse class="h" cx="680.6" cy="97.4" rx="2.4" ry="2.4"/>
<ellipse class="k" cx="680.6" cy="97.4" rx="1.0" ry="1.0"/>
<ellipse class="h" cx="681.1" cy="155.8" rx="2.8" ry="3.1"/>
<ellipse class="k" cx="681.1" cy="155.8" rx="1.2" ry="1.4"/>
<path class="l" d="M 684.1,151.9 L 687.6,153.7 L 686.7,160.7 L 684.1,162.4 L 685.0,166.8 M 678.0,151.9 L 684.1,146.7"/>
<ellipse class="h" cx="681.5" cy="189.5" rx="2.4" ry="2.8"/>
<ellipse class="k" cx="681.5" cy="189.5" rx="1.0" ry="1.2"/>
<path class="h" d="M 678.0,174.7 L 685.0,172.9 M 679.7,177.3 L 682.3,173.8 M 682.3,177.3 L 685.0,173.8"/>
<path class="l" d="M 625.8,188.7 L 655.2,190.4 L 657.0,183.8 M 628.1,203.5 L 629.0,195.6 L 652.6,197.4 L 658.7,201.8 M 632.5,188.7 L 631.6,195.6 M 646.5,189.5 L 645.8,196.9 M 652.6,197.4 L 654.3,190.8 M 675.3,207.9 L 674.1,200.0 L 665.7,201.8 L 663.1,208.8 M 665.7,201.8 L 659.6,198.3 M 674.1,200.0 L 677.1,194.8 L 685.0,191.3"/>
<ellipse class="h" cx="636.9" cy="191.3" rx="3.1" ry="2.8"/>
<ellipse class="k" cx="636.9" cy="191.3" rx="1.2" ry="1.2"/>
<path class="l" d="M 633.4,193.9 L 641.2,188.7 M 634.6,195.6 L 643.0,190.1 M 649.1,193.9 C 650.9,195.6 652.6,194.8 652.1,192.5"/>
<ellipse class="k" cx="679.0" cy="56.8" rx="2.6" ry="2.8"/>
<path d="M 677.3,58.9 L 666.1,67.1" fill="none" stroke="#111" stroke-width="2.6"/>
<path class="l" d="M 666.1,67.1 L 654.3,76.4"/>
<ellipse class="k" cx="708.0" cy="75.0" rx="2.3" ry="2.6"/>
<path d="M 706.3,77.1 L 701.4,81.3" fill="none" stroke="#111" stroke-width="2.4"/>
<path class="l" d="M 701.4,81.3 L 689.3,89.8"/>
<path class="k" d="M509.6,298.4 L518.4,298.4 L520.6,306.8 L507,306.8 Z"/>
<ellipse cx="514" cy="298.6" rx="2" ry="0.7" fill="none" stroke="#bbb" stroke-width="0.6"/>
<path class="w" d="M508,307 L520,307 L520,316 L518,317.4 L518,324.6 L517,325.4 L517,330 L516.4,330.6 L516.4,333.4 L511.4,333.4 L511.4,330.6 L510.6,330 L510.6,325.4 L509.4,324.6 L509.4,317.4 L508,316 Z"/>
<path class="l" d="M508,311.4 L520,311.4 M508,316 L520,316 M509.4,319 L518,319 M509.4,324.6 L518,324.6 M510.6,330 L517,330 M510.6,327 L517,327"/>
<path class="h" d="M508,307 L508,316 M509.4,317.4 L509.4,324.6"/>
<path class="h" d="M509,310 L511,310 M512,320 L514.6,320 L514.6,323"/>
<path class="w" d="M506.6,346.4 L506.6,348.6 A7.4,3.0 0 0 0 521.4,348.6 L521.4,346.4 Z"/>
<ellipse class="w" cx="514.0" cy="346.4" rx="7.4" ry="3.0"/>
<ellipse cx="514" cy="346.4" rx="7.4" ry="3" fill="none" stroke="#111" stroke-width="1.6"/>
<ellipse cx="514" cy="346.6" rx="4" ry="1.5" fill="none" stroke="#111" stroke-width="1.3"/>
<path class="w" d="M502.0,362.4 L502.0,368.4 A12.0,5.0 0 0 0 526.0,368.4 L526.0,362.4 Z"/>
<ellipse class="w" cx="514.0" cy="362.4" rx="12.0" ry="5.0"/>
<ellipse cx="514" cy="362.4" rx="12" ry="5" fill="none" stroke="#111" stroke-width="1.8"/>
<ellipse cx="514" cy="362.8" rx="8.4" ry="3.3" fill="none" stroke="#111" stroke-width="2.2"/>
<ellipse cx="514" cy="363" rx="4.4" ry="1.8" fill="none" stroke="#111" stroke-width="1.2"/>
<ellipse class="k" cx="505.6" cy="367.6" rx="0.9" ry="0.9"/>
<ellipse cx="514" cy="385" rx="7.3" ry="2.8" fill="none" stroke="#111" stroke-width="2"/>
<path class="k" d="M494.4,403.6 L494.4,412.6 A20,8.6 0 0 0 534.6,412.6 L534.6,403.6 A20,8.6 0 0 0 494.4,403.6 Z"/>
<path d="M494.4,404.6 L494.4,412.6 A20,8.6 0 0 0 534.6,412.6 L534.6,404.6" fill="none" stroke="#fff" stroke-width="7" stroke-dasharray=".55 1.35" opacity=".55"/>
<ellipse cx="514.5" cy="403.6" rx="20.4" ry="9" fill="none" stroke="#111" stroke-width="1.6" stroke-dasharray="1.1 .8"/>
<ellipse cx="514.5" cy="404" rx="15.4" ry="6.2" fill="#fff" stroke="#111" stroke-width="1"/>
<ellipse cx="514.5" cy="404.4" rx="5.8" ry="2.4" fill="#111" stroke="#111" stroke-width="1"/>
<ellipse cx="514.5" cy="405.2" rx="3" ry="0.9" fill="#fff" stroke="#fff" stroke-width="0.7"/>
<path class="w" d="M499.7,434.4 L499.7,436.2 A14.8,6.6 0 0 0 529.3,436.2 L529.3,434.4 Z"/>
<ellipse class="w" cx="514.5" cy="434.4" rx="14.8" ry="6.6"/>
<ellipse cx="514.5" cy="434.4" rx="14.8" ry="6.6" fill="none" stroke="#111" stroke-width="1.5"/>
<ellipse cx="514.5" cy="434.8" rx="5.2" ry="2.4" fill="none" stroke="#111" stroke-width="1.5"/>
<ellipse cx="514.5" cy="435" rx="2.6" ry="1" fill="none" stroke="#111" stroke-width="0.9"/>
<ellipse cx="524.1" cy="436.2" rx="1.7" ry="1" fill="#333" stroke="#111" stroke-width="1.1"/>
<ellipse cx="518.6" cy="438.7" rx="1.7" ry="1" fill="#333" stroke="#111" stroke-width="1.1"/>
<ellipse cx="510.6" cy="438.7" rx="1.7" ry="1" fill="#333" stroke="#111" stroke-width="1.1"/>
<ellipse cx="504.9" cy="436.3" rx="1.7" ry="1" fill="#333" stroke="#111" stroke-width="1.1"/>
<ellipse cx="504.9" cy="433.0" rx="1.7" ry="1" fill="#333" stroke="#111" stroke-width="1.1"/>
<ellipse cx="510.4" cy="430.5" rx="1.7" ry="1" fill="#333" stroke="#111" stroke-width="1.1"/>
<ellipse cx="518.4" cy="430.5" rx="1.7" ry="1" fill="#333" stroke="#111" stroke-width="1.1"/>
<ellipse cx="524.1" cy="432.9" rx="1.7" ry="1" fill="#333" stroke="#111" stroke-width="1.1"/>
<ellipse class="k" cx="504.0" cy="450.4" rx="1.8" ry="1.8"/>
<line class="l" x1="504.0" y1="441.6" x2="504.0" y2="449.0"/>
<path class="w" d="M501.2,463.0 L501.2,464.6 A13.4,6.0 0 0 0 528.0,464.6 L528.0,463.0 Z"/>
<ellipse class="w" cx="514.6" cy="463.0" rx="13.4" ry="6.0"/>
<ellipse cx="514.6" cy="463" rx="13.4" ry="6" fill="none" stroke="#111" stroke-width="1.5"/>
<ellipse cx="514.6" cy="463.8" rx="4.6" ry="2" fill="none" stroke="#111" stroke-width="1.8"/>
<ellipse class="k" cx="503.6" cy="462.6" rx="0.6" ry="0.6"/>
<ellipse cx="515.4" cy="486" rx="12" ry="7" fill="none" stroke="#111" stroke-width="1.9"/>
<ellipse cx="515.6" cy="486.6" rx="8.6" ry="4.6" fill="none" stroke="#111" stroke-width="1.6"/>
<ellipse cx="514.6" cy="486" rx="5.2" ry="1.8" fill="none" stroke="#111" stroke-width="1.7"/>
<path class="h" d="M505,484.4 C505,480 512,478.6 516,478.8"/>
<path class="h" d="M508.4,502.8 C512,500 521,500.4 523.6,504.6 C525,508 523.4,510.6 520,511.6 C514,513.2 508.4,511.4 508,508.6 C508,505.6 514,504 519,505 C522.6,506 523,509 523.6,511.4"/>
<path class="l" d="M508.6,509 C509,506 516,505 521,506.6"/>
<ellipse class="l" cx="523.0" cy="512.2" rx="1.5" ry="1.5"/>
<ellipse cx="516" cy="527.4" rx="12.8" ry="6" fill="none" stroke="#111" stroke-width="2.8"/>
<ellipse cx="516" cy="528.4" rx="12.6" ry="6.4" fill="none" stroke="#111" stroke-width="1.1"/>
<ellipse cx="516" cy="527" rx="5.4" ry="2.6" fill="none" stroke="#111" stroke-width="2"/>
<ellipse cx="516" cy="526.6" rx="2.8" ry="1.2" fill="#555" stroke="#111" stroke-width="1"/>
<path class="l" d="M510.6,527 L510.6,529.6 A5.4,2.6 0 0 0 521.4,529.6 L521.4,527"/>
<ellipse cx="516" cy="544.8" rx="3.4" ry="1.7" fill="none" stroke="#111" stroke-width="1.7"/>
<path class="w" d="M508.0,555.6 L508.0,561.0 A8.0,3.4 0 0 0 524.0,561.0 L524.0,555.6 Z"/>
<ellipse class="w" cx="516.0" cy="555.6" rx="8.0" ry="3.4"/>
<ellipse cx="516" cy="555.6" rx="8" ry="3.4" fill="none" stroke="#111" stroke-width="1.7"/>
<ellipse cx="516" cy="555.8" rx="4.6" ry="1.8" fill="none" stroke="#111" stroke-width="2"/>
<path class="w" d="M596.8,330 L596.8,341 L598,342 L598,347 L598.6,347.6 L598.6,352 L600,353 L600,356 A4,1.4 0 0 0 608,356 L608,353 L608.6,352 L608.6,347.6 L609.4,347 L609.4,342 L610,341 L610,330 Z"/>
<path class="l" d="M596.8,336.6 A6.6,2 0 0 0 610,336.6 M596.8,341 A6.6,2 0 0 0 610,341 M598,347 A5.6,1.8 0 0 0 609.4,347 M598.6,352 A5,1.6 0 0 0 608.6,352 M604,343 L604,350"/>
<path class="w" d="M591.4,322.6 C592,319.6 595,319 597,320 C600,318.4 607,318 610,319.6 C614,318.6 617.4,321.4 616.8,324.6 C617.6,326.6 616.6,329 614,329.4 C611,332.6 598,333 595.4,330.6 C592.4,330.4 591.6,328 592.6,326 C591.2,325 591,323.6 591.4,322.6 Z"/>
<path class="l" d="M592.6,326 C596,329.6 612,330 616.8,324.6 M595.4,330.6 L595.6,327.6 M614,329.4 L614,327"/>
<path class="w" d="M597,319 L597,326.6 A2.6,1 0 0 0 602.2,326.6 L602.2,319 A2.6,1 0 0 0 597,319 Z"/>
<ellipse class="l" cx="599.6" cy="319.0" rx="2.6" ry="1.0"/>
<path class="h" d="M603.6,324 L603.6,329 M606.4,323 L606.4,329"/>
<path class="w" d="M632.6,346.2 L647.4,348.8 L648,351.8 L633.2,349.2 Z"/>
<line class="f" x1="633.0" y1="347.6" x2="647.6" y2="350.2"/>
<line class="l" x1="610.0" y1="342.8" x2="632.6" y2="347.6"/>
<path class="w" d="M591.0,373.6 L591.0,379.6 A13.2,5.4 0 0 0 617.4,379.6 L617.4,373.6 Z"/>
<ellipse class="w" cx="604.2" cy="373.6" rx="13.2" ry="5.4"/>
<ellipse cx="604.2" cy="373.6" rx="13.2" ry="5.4" fill="none" stroke="#111" stroke-width="1.7"/>
<ellipse cx="604.2" cy="374" rx="9.6" ry="3.8" fill="none" stroke="#111" stroke-width="2"/>
<ellipse cx="604.2" cy="374.4" rx="5.6" ry="2.3" fill="none" stroke="#111" stroke-width="1.2"/>
<ellipse class="l" cx="613.4" cy="380.6" rx="0.8" ry="0.8"/>
<ellipse cx="605.6" cy="405.8" rx="7.2" ry="3.1" fill="none" stroke="#111" stroke-width="2.2"/>
<polyline class="hh" points="609.7,433.4 608.3,433.8 606.7,434.0 605.2,434.2 603.6,434.2 602.0,434.1 600.4,434.0 598.9,433.7 597.5,433.3 596.2,432.9 595.0,432.3 593.9,431.7 593.0,431.0 592.3,430.3 591.7,429.5 591.4,428.7 591.2,427.8 591.3,427.0 591.5,426.2 591.9,425.4 592.6,424.6 593.4,423.9 594.4,423.2 595.5,422.6 596.8,422.1 598.1,421.7 599.6,421.4 601.1,421.2 602.7,421.0 604.3,421.0 605.9,421.1 607.4,421.3 608.9,421.6 610.3,422.0 611.6,422.4 612.8,423.0 613.9,423.6 614.7,424.3 615.4,425.1 616.0,425.9 616.3,426.7"/>
<polyline points="608.3,433.8 606.7,434.0 605.2,434.2 603.6,434.2 602.0,434.1 600.4,434.0 598.9,433.7 597.5,433.3 596.2,432.9 595.0,432.3 593.9,431.7 593.0,431.0 592.3,430.3 591.7,429.5 591.4,428.7 591.2,427.8 591.3,427.0 591.5,426.2 591.9,425.4 592.6,424.6 593.4,423.9 594.4,423.2 595.5,422.6 596.8,422.1 598.1,421.7 599.6,421.4 601.1,421.2 602.7,421.0 604.3,421.0 605.9,421.1 607.4,421.3 608.9,421.6 610.3,422.0 611.6,422.4 612.8,423.0 613.9,423.6 614.7,424.3 615.4,425.1 616.0,425.9" fill="none" stroke="#fff" stroke-width=".7"/>
<rect x="601.4" y="440.6" width="6.2" height="28" rx="2" fill="#111"/>
<path d="M601.2,441 L601.2,468.6 M607.8,441 L607.8,468.6" stroke="#111" stroke-width="1.4" stroke-dasharray="1 .7" fill="none"/>
<rect class="w" x="601.4" y="475.6" width="6.2" height="14.6" rx="2.4"/>
<path class="l" d="M601.4,478 A3.1,1.2 0 0 0 607.6,478"/>
<line class="h" x1="605.6" y1="482.0" x2="605.6" y2="486.0"/>
<path class="k" d="M590,509.6 L590,516.4 A15,5.6 0 0 0 620,516.4 L620,509.6 A15,5.6 0 0 0 590,509.6 Z"/>
<path d="M590,510.6 L590,516.4 A15,5.6 0 0 0 620,516.4 L620,510.6" fill="none" stroke="#fff" stroke-width="6" stroke-dasharray=".5 1.3" opacity=".5"/>
<ellipse cx="605" cy="509.4" rx="15.2" ry="5.8" fill="#fff" stroke="#111" stroke-width="1.8" stroke-dasharray="1.1 .8"/>
<path class="w" d="M596,503.6 L596,508.4 A9,3.6 0 0 0 614,508.4 L614,503.6 Z"/>
<ellipse cx="605" cy="503.6" rx="9" ry="3.8" fill="#fff" stroke="#111" stroke-width="1.6"/>
<ellipse cx="605" cy="504" rx="6.6" ry="2.6" fill="none" stroke="#111" stroke-width="1.2"/>
<path class="h" d="M600,505.4 L603,506.4 M607,506.6 L610.6,505.6 M603,502.6 L608,502.4"/>
<path class="w" d="M595.4,532.6 L595.4,538.2 A9.8,4.0 0 0 0 615.0,538.2 L615.0,532.6 Z"/>
<ellipse class="w" cx="605.2" cy="532.6" rx="9.8" ry="4.0"/>
<ellipse cx="605.2" cy="532.6" rx="9.8" ry="4" fill="none" stroke="#111" stroke-width="1.6"/>
<ellipse cx="605.2" cy="532.8" rx="8" ry="3" fill="none" stroke="#111" stroke-width="1"/>
<path class="h" d="M595.4,535.6 A9.8,4 0 0 0 615,535.6"/>
<path class="w" d="M599.2,552.4 L599.2,557.8 A6.2,2.6 0 0 0 611.6,557.8 L611.6,552.4 Z"/>
<ellipse class="w" cx="605.4" cy="552.4" rx="6.2" ry="2.6"/>
<ellipse cx="605.4" cy="552.4" rx="6.2" ry="2.6" fill="#222" stroke="#111" stroke-width="1.4"/>
<ellipse cx="605.4" cy="552.6" rx="3.4" ry="1.1" fill="none" stroke="#aaa" stroke-width="0.7"/>
<polyline class="d2" points="514.0,180.0 514.0,296.0"/>
<polyline class="d2" points="514.0,334.0 514.0,597.5"/>
<polyline class="d2" points="605.0,288.0 605.0,317.0"/>
<polyline class="d2" points="605.0,357.0 605.0,440.0"/>
<polyline class="d2" points="605.0,469.0 605.0,475.0"/>
<polyline class="d2" points="605.0,490.0 605.0,609.5"/>
<path class="w" d="M 359.1,647.0 C 361.4,639.7 370.9,635.5 382.3,634.6 C 390.9,634.0 397.6,634.8 401.4,635.9 L 426.1,641.6 C 431.8,643.5 435.2,647.3 436.0,653.0 L 436.7,654.0 L 436.7,668.6 L 428.4,673.2 L 413.2,678.2 L 407.4,676.3 L 406.7,673.2 L 369.4,669.4 L 368.3,671.3 L 365.2,670.2 L 363.7,664.8 C 360.5,660.7 358.6,653.0 359.1,647.0 Z"/>
<path class="h" d="M 359.1,647.0 C 361.4,639.7 370.9,635.5 382.3,634.6 C 390.9,634.0 397.6,634.8 401.4,635.9 L 426.1,641.6 C 431.8,643.5 435.2,647.3 436.0,653.0"/>
<path class="l" d="M 361.8,647.7 C 364.3,641.6 372.8,637.8 382.7,637.1 C 389.9,636.7 396.6,637.4 399.8,638.6 L 424.6,643.9 C 429.9,645.4 432.9,648.9 433.3,653.0 L 428.0,657.8 L 412.8,662.6 L 368.3,654.0 C 365.2,653.0 362.6,650.8 361.8,647.7 Z"/>
<path class="l" d="M 368.3,654.0 L 369.0,669.4 M 412.8,662.6 L 413.2,678.2 M 428.0,657.8 L 428.4,673.2 M 363.7,664.8 L 363.3,653.0 M 412.8,662.6 L 415.6,661.0 L 428.9,657.2 M 361.8,647.7 L 359.1,647.0"/>
<path class="h" d="M 368.3,654.0 L 412.8,662.6 L 428.0,657.8"/>
<ellipse class="l" cx="382.3" cy="651.1" rx="10.7" ry="4.2"/>
<ellipse class="l" cx="382.3" cy="651.9" rx="7.6" ry="2.9"/>
<path class="l" d="M 393.8,637.8 C 399.8,640.7 402.3,645.4 401.0,650.2 M 396.6,637.4 C 403.3,640.1 405.5,645.4 404.2,650.8 M 401.0,650.2 L 407.1,655.9 L 412.8,657.2"/>
<path class="w" d="M 408.0,648.9 L 408.0,654.0 C 409.9,657.2 419.4,657.2 421.9,654.0 L 421.9,648.9"/>
<ellipse class="w" cx="414.9" cy="648.9" rx="7.0" ry="2.9"/>
<ellipse class="l" cx="414.9" cy="648.9" rx="4.2" ry="1.5"/>
<path class="l" d="M 421.9,653.0 L 426.1,654.0 L 427.6,651.1 M 425.1,654.9 L 429.9,652.1 L 431.8,653.0"/>
<path class="h" d="M 415.6,664.8 L 425.7,662.2 L 425.7,672.1 L 415.6,674.9 Z"/>
<path class="h" d="M 417.7,666.0 L 420.8,665.2 L 420.8,672.1 L 417.7,672.8 Z M 421.9,664.8 L 424.6,664.1 L 424.6,670.9 L 421.9,671.7 Z"/>
<path class="l" d="M 430.8,659.1 L 436.0,657.2 L 436.0,668.3 L 430.8,670.5 Z"/>
<ellipse class="h" cx="433.3" cy="664.1" rx="1.5" ry="3.0"/>
<path class="l" d="M 376.6,669.8 L 377.0,671.3 L 378.5,671.3 M 406.7,673.2 L 405.2,675.1 L 407.4,676.3"/>
<path class="l" d="M 433.1,622.6 L 433.1,655.9 M 431.8,623.0 L 435.2,622.6 M 431.0,628.3 L 434.6,626.8"/>
<path class="h" d="M 432.2,624.5 L 432.2,635.0"/>
<path class="l" d="M 422.7,631.7 L 428.0,630.2 L 428.4,633.6 L 423.0,635.2 Z M 428.0,631.7 L 432.2,630.6"/>
<path class="w" d="M 450.4,667.9 L 454.2,668.6 L 454.2,666.7 C 456.5,664.8 459.4,665.6 460.3,667.5 L 464.1,670.2 L 463.4,675.5 L 458.8,674.3 C 456.5,674.3 454.6,673.2 454.2,671.7 L 450.4,670.9 Z"/>
<path class="l" d="M 454.2,668.6 L 454.2,671.7 M 458.8,667.9 L 458.8,674.3"/>
<path class="w" d="M 460.7,680.6 C 459.4,678.7 459.9,675.9 462.2,674.3 L 471.7,666.4 C 474.6,664.8 481.3,666.7 485.1,670.2 C 486.6,672.1 486.2,674.3 484.7,676.3 L 474.6,685.0 C 472.7,686.3 469.8,685.8 468.3,683.9 L 465.1,682.5 Z"/>
<path class="l" d="M 462.2,674.3 C 464.1,675.9 466.4,679.7 468.3,683.9 M 463.8,673.0 L 473.3,666.7 M 466.0,675.5 L 476.5,667.9 M 468.9,681.6 L 481.3,671.3 C 482.8,672.1 484.1,673.6 483.2,675.5 L 473.6,683.5 M 471.7,682.0 L 481.3,674.3 M 473.3,683.1 L 482.4,675.5"/>
<path class="h" d="M 460.7,680.6 C 459.4,678.7 459.9,675.9 462.2,674.3 L 471.7,666.4 M 469.8,682.0 L 481.3,672.4"/>
<path class="w" d="M382.2,701.0 L382.2,707.0 A9.8,3.8 0 0 0 401.8,707.0 L401.8,701.0 Z"/>
<ellipse class="w" cx="392.0" cy="701.0" rx="9.8" ry="3.8"/>
<ellipse cx="392" cy="701" rx="9.8" ry="3.8" fill="none" stroke="#111" stroke-width="1.6"/>
<ellipse cx="392" cy="701.4" rx="5.6" ry="2" fill="none" stroke="#111" stroke-width="1.8"/>
<polyline class="d" points="514.0,597.5 383.0,597.5 383.0,652.0"/>
<polyline class="d" points="605.0,609.5 414.0,609.5 414.0,647.0"/>
<line class="l" x1="436.6" y1="663.6" x2="450.4" y2="668.2"/>
<path class="w" d="M 420.7,748.9 L 420.7,772.0 L 427.0,772.0 L 427.0,748.9 C 426.3,747.1 421.4,747.1 420.7,748.9 Z"/>
<path class="l" d="M 421.7,751.0 L 421.7,763.6 M 425.9,751.0 L 425.9,763.6 M 420.7,763.6 L 427.0,763.6"/>
<ellipse class="w" cx="424.6" cy="776.9" rx="24.1" ry="13.2"/>
<ellipse class="h" cx="424.6" cy="776.9" rx="24.1" ry="13.2"/>
<path class="h" d="M 448.5,777.8 L 436.4,776.2"/>
<path class="h" d="M 446.9,781.4 L 435.0,777.8"/>
<path class="h" d="M 443.7,784.6 L 432.6,779.0"/>
<path class="h" d="M 438.9,787.3 L 429.7,779.9"/>
<path class="h" d="M 433.1,789.0 L 426.3,780.4"/>
<path class="h" d="M 426.3,789.8 L 422.8,780.4"/>
<path class="h" d="M 419.6,789.5 L 419.5,779.9"/>
<path class="h" d="M 413.3,788.3 L 416.5,779.0"/>
<path class="h" d="M 407.8,786.0 L 414.3,777.8"/>
<path class="h" d="M 403.8,783.1 L 412.7,776.2"/>
<path class="h" d="M 401.4,779.7 L 412.3,774.6"/>
<path class="h" d="M 400.8,776.1 L 412.9,772.9"/>
<path class="h" d="M 402.4,772.5 L 414.3,771.3"/>
<path class="h" d="M 405.6,769.2 L 416.7,770.1"/>
<path class="h" d="M 410.4,766.6 L 419.6,769.2"/>
<path class="h" d="M 416.2,764.9 L 423.0,768.7"/>
<path class="h" d="M 423.0,764.0 L 426.5,768.7"/>
<path class="h" d="M 429.7,764.3 L 429.8,769.2"/>
<path class="h" d="M 436.0,765.6 L 432.8,770.1"/>
<path class="h" d="M 441.5,767.8 L 435.0,771.3"/>
<path class="h" d="M 445.5,770.8 L 436.6,772.9"/>
<path class="h" d="M 447.9,774.1 L 437.0,774.6"/>
<polyline class="l" points="448.0,776.8 447.5,778.1 446.8,779.3 445.9,780.4 444.7,781.5 443.4,782.6 441.8,783.5 440.1,784.4 438.2,785.2 436.2,785.9 434.0,786.4 431.8,786.9 429.4,787.2 427.1,787.4 424.6,787.4 422.2,787.4 419.9,787.2 417.5,786.9 415.3,786.4 413.1,785.9 411.1,785.2 409.2,784.4 407.5,783.5 405.9,782.6 404.6,781.5 403.4,780.4 402.5,779.3 401.8,778.1 401.3,776.8"/>
<ellipse class="w" cx="424.6" cy="774.6" rx="12.3" ry="5.9"/>
<ellipse class="hh" cx="424.6" cy="774.6" rx="12.3" ry="5.9"/>
<ellipse class="l" cx="424.6" cy="774.3" rx="8.7" ry="3.6"/>
<ellipse class="hh" cx="424.6" cy="774.3" rx="6.2" ry="2.4"/>
<path class="w" d="M 420.7,763.6 L 420.7,773.7 C 422.1,775.1 425.9,775.1 427.0,773.7 L 427.0,763.6 Z"/>
<path class="l" d="M 421.7,765.0 L 421.7,773.7 M 425.9,765.0 L 425.9,773.7"/>
<path class="h" d="M 423.9,752.4 L 423.9,772.0"/>
<path class="w" d="M 409.9,793.3 C 413.0,789.5 435.4,789.5 439.9,793.3 L 439.9,830.9 C 435.4,834.4 413.7,834.4 409.9,830.9 Z"/>
<path class="h" d="M 409.9,793.3 C 413.0,789.5 435.4,789.5 439.9,793.3 L 439.9,830.9 M 409.9,793.3 L 409.9,830.9"/>
<path class="l" d="M 409.9,795.8 C 415.8,799.4 434.0,799.4 439.9,795.8"/>
<path class="l" d="M 412.5,798.1 L 412.5,831.2"/>
<path class="l" d="M 415.0,798.1 L 415.0,831.2"/>
<path class="l" d="M 419.2,798.1 L 419.2,831.2"/>
<path class="h" d="M 421.7,798.1 L 421.7,831.2"/>
<path class="l" d="M 427.0,798.1 L 427.0,831.2"/>
<path class="l" d="M 431.2,798.1 L 431.2,831.2"/>
<path class="l" d="M 434.9,798.1 L 434.9,831.2"/>
<path class="l" d="M 438.0,798.1 L 438.0,831.2"/>
<path class="h" d="M 424.2,802.9 L 427.0,802.9 M 424.2,806.8 L 426.5,806.8 M 424.2,802.9 L 424.2,812.7"/>
<path class="w" d="M 409.9,830.9 C 413.0,834.4 413.7,836.5 413.7,838.2 L 434.7,838.2 C 434.7,836.5 435.7,834.4 439.9,830.9"/>
<path class="l" d="M 412.3,833.0 C 415.1,831.6 416.5,833.7 418.6,833.0 C 420.7,831.6 422.1,834.0 424.6,833.1 C 427.0,831.7 428.7,834.0 431.2,833.0 C 433.3,831.7 435.4,833.7 438.0,832.0"/>
<path class="k" d="M 415.1,838.6 L 415.1,849.4 C 418.6,852.6 431.2,852.6 434.0,849.4 L 434.0,838.6 Z"/>
<path d="M 416.1,845.2 C 420.0,847.7 429.8,847.7 433.2,845.2" fill="none" stroke="#fff" stroke-width="8" stroke-dasharray=".45 1.5" opacity=".5"/>
<path class="h" d="M 413.7,838.2 L 434.7,838.2"/>
<path class="f" d="M 416.9,840.7 L 432.4,840.7"/>
<path class="w" d="M 422.1,851.9 L 422.1,858.6 C 423.1,859.7 426.5,859.7 427.3,858.6 L 427.3,851.9 Z"/>
<path class="l" d="M 422.1,855.4 L 427.3,855.4"/>
<path class="w" d="M417.2,882.0 L417.2,886.8 A8.4,3.6 0 0 0 434.0,886.8 L434.0,882.0 Z"/>
<ellipse class="w" cx="425.6" cy="882.0" rx="8.4" ry="3.6"/>
<ellipse cx="425.6" cy="882" rx="8.4" ry="3.6" fill="none" stroke="#111" stroke-width="1.6"/>
<ellipse cx="425.6" cy="882.2" rx="5.2" ry="2" fill="none" stroke="#111" stroke-width="1.6"/>
<ellipse cx="425.8" cy="882.4" rx="2.4" ry="0.8" fill="none" stroke="#111" stroke-width="1"/>
<path class="k" d="M413.8,911 L413.8,917.6 A10.3,4 0 0 0 434.4,917.6 L434.4,911 Z"/>
<path d="M414.4,914.6 A10,3.8 0 0 0 434,914.6" fill="none" stroke="#fff" stroke-width="5" stroke-dasharray=".45 1.8" opacity=".35"/>
<ellipse cx="424.1" cy="911" rx="10.3" ry="4" fill="#fff" stroke="#111" stroke-width="1.9"/>
<ellipse cx="424.1" cy="911.4" rx="8.6" ry="3" fill="none" stroke="#111" stroke-width="1"/>
<polyline class="d2" points="423.8,721.0 423.8,746.0"/>
<polyline class="d2" points="423.8,860.0 423.8,878.0"/>
<polyline class="d2" points="423.8,890.0 423.8,907.0"/>
<polyline class="d2" points="423.8,922.0 423.8,942.0"/>
<polyline class="d2" points="423.8,790.0 423.8,838.0"/>
<path d="M 567.9,642.0 L 582.6,632.8 L 582.6,629.8 L 590.0,629.2 L 591.2,643.2 L 597.9,639.0 L 623.6,646.9 L 627.3,642.6 L 634.0,642.0 L 634.0,655.5 C 632.1,661.6 626.0,665.9 617.5,667.9 L 607.7,669.2 L 578.3,662.2 L 571.0,659.1 C 567.3,655.5 565.5,648.1 567.9,642.0 Z" fill="#fff" stroke="none"/>
<path class="w" d="M 567.9,642.0 C 566.1,646.3 566.7,653.0 571.0,659.1 L 575.9,659.1 L 575.9,643.2 Z"/>
<path class="h" d="M 567.9,642.0 C 566.1,646.3 566.7,653.0 571.0,659.1"/>
<path class="l" d="M 567.9,642.0 C 572.2,638.3 577.1,635.3 582.6,632.8 M 582.6,629.8 L 590.0,629.2 L 591.2,643.8 L 583.2,632.8 Z M 584.5,631.0 L 589.1,640.8"/>
<path class="h" d="M 582.6,629.8 L 583.2,632.8 L 591.2,643.8 L 590.0,629.2"/>
<path class="h" d="M 571.0,659.1 L 578.3,662.2 C 586.9,666.5 599.1,668.9 607.7,669.2 M 634.0,655.5 C 632.1,661.6 626.0,665.9 617.5,667.9"/>
<ellipse class="l" cx="601.6" cy="655.7" rx="24.2" ry="10.3"/>
<ellipse class="h" cx="601.0" cy="655.0" rx="16.6" ry="6.1"/>
<ellipse class="l" cx="601.0" cy="655.5" rx="13.7" ry="4.6"/>
<path d="M 596.7,638.3 L 623.6,646.3 L 628.5,648.7 L 628.5,655.5 L 617.5,655.5 L 596.7,646.9 Z" fill="#fff" stroke="none"/>
<path class="l" d="M 597.3,638.3 L 623.6,646.7 L 627.9,648.9 M 597.3,638.3 L 599.1,644.5 M 599.1,639.6 L 602.2,638.3 L 602.2,655.5 M 602.2,640.5 L 624.8,647.9 M 618.7,652.4 C 622.4,652.0 626.0,650.6 627.9,648.9"/>
<path class="w" d="M 627.3,642.6 L 634.0,642.0 L 634.0,655.5 L 630.3,656.7 L 627.3,649.3 Z"/>
<path class="h" d="M 630.3,643.0 L 630.3,656.7 M 631.5,648.7 L 633.4,648.7"/>
<path class="w" d="M 614.4,655.5 L 618.1,654.2 L 618.1,667.9 L 615.0,666.7 Z"/>
<path class="h" d="M 614.4,655.5 L 615.0,666.7 L 618.1,667.9"/>
<path class="l" d="M 583.8,653.0 L 586.3,652.0 L 586.7,654.2 M 578.3,662.2 L 579.6,660.6 M 605.2,667.1 L 607.7,669.2 L 608.9,667.4"/>
<ellipse class="l" cx="601.0" cy="655.0" rx="16.6" ry="6.1"/>
<ellipse cx="545.6" cy="667.3" rx="3" ry="1.5" fill="#111" stroke="#111"/>
<path class="l" d="M 544.5,669.8 L 544.5,710.1 M 547.1,669.8 L 547.1,710.1 M 544.5,669.8 L 547.1,669.8"/>
<path d="M 545.8,687.3 L 545.8,710.1" fill="none" stroke="#111" stroke-width="3"/>
<path class="l" d="M 546.4,710.1 L 546.4,733.9"/>
<polyline class="d2" points="546.7,719.2 586.0,702.6"/>
<path class="w" d="M 579.5,693.1 C 582.2,686.3 593.0,682.9 602.8,682.9 C 613.4,682.9 624.3,686.3 626.3,692.4 L 626.3,723.7 C 622.9,729.8 612.1,733.9 602.6,733.9 C 591.7,733.6 582.2,730.5 579.5,725.7 Z"/>
<path class="h" d="M 579.5,693.1 C 582.2,686.3 593.0,682.9 602.8,682.9 C 613.4,682.9 624.3,686.3 626.3,692.4 L 626.3,723.7 M 579.5,693.1 L 579.5,725.7"/>
<path class="l" d="M 579.5,693.1 C 582.2,698.5 593.0,701.9 602.8,701.9 C 613.4,701.9 623.6,698.5 626.3,692.4 M 581.5,692.4 C 584.2,696.9 593.7,699.9 602.8,699.9 C 612.1,699.9 621.6,697.2 624.3,692.4"/>
<path class="h" d="M 579.5,725.7 C 582.2,730.5 591.7,733.6 602.6,733.9 C 612.1,733.9 622.9,729.8 626.3,723.7"/>
<path class="l" d="M 588.3,699.2 L 588.3,731.4 M 622.3,697.2 L 622.3,727.7 M 624.0,695.8 L 624.0,726.4"/>
<path class="h" d="M 596.4,701.5 L 596.4,733.3 M 614.8,700.6 L 614.8,732.2"/>
<path class="w" d="M 586.2,680.6 C 587.6,678.4 595.8,676.8 599.2,678.4 C 601.2,679.5 602.3,681.5 602.3,683.6 L 602.6,699.2 L 591.7,699.2 L 587.6,689.0 Z"/>
<path class="h" d="M 586.2,680.6 C 587.6,678.4 595.8,676.8 599.2,678.4 C 601.2,679.5 602.3,681.5 602.3,683.6"/>
<path class="l" d="M 589.0,688.3 L 601.2,686.3 M 590.6,690.4 L 591.7,699.2 M 584.2,678.8 L 588.3,677.9 M 586.5,682.2 L 588.3,688.3 M 582.9,691.7 L 586.9,690.4 L 589.0,695.8"/>
<path class="w" d="M 604.6,694.2 L 616.8,684.7 C 618.9,683.6 621.6,685.2 621.3,687.7 L 609.6,699.2 Z"/>
<path class="h" d="M 604.6,694.2 L 616.8,684.7 C 618.9,683.6 621.6,685.2 621.3,687.7"/>
<path class="l" d="M 606.4,690.4 L 614.8,684.3 M 616.8,682.9 L 618.9,684.3 M 620.2,690.4 L 622.9,691.7"/>
<path d="M 563.4,737.5 C 568.6,736.3 575.4,738.6 582.2,737.7" fill="none" stroke="#111" stroke-width="2.6" stroke-linecap="round"/>
<path d="M 563.4,737.5 C 568.6,736.3 575.4,738.6 582.2,737.7" fill="none" stroke="#fff" stroke-width=".7" stroke-linecap="round"/>
<path d="M 582.2,742.3 C 589.0,740.9 595.8,744.0 601.2,743.1" fill="none" stroke="#111" stroke-width="2.6" stroke-linecap="round"/>
<path d="M 582.2,742.3 C 589.0,740.9 595.8,744.0 601.2,743.1" fill="none" stroke="#fff" stroke-width=".7" stroke-linecap="round"/>
<path d="M 623.6,729.8 C 631.1,727.7 637.9,730.5 644.9,729.1" fill="none" stroke="#111" stroke-width="2.6" stroke-linecap="round"/>
<path d="M 623.6,729.8 C 631.1,727.7 637.9,730.5 644.9,729.1" fill="none" stroke="#fff" stroke-width=".7" stroke-linecap="round"/>
<path d="M 621.8,734.7 C 628.4,736.8 635.2,735.2 641.7,736.6" fill="none" stroke="#111" stroke-width="2.6" stroke-linecap="round"/>
<path d="M 621.8,734.7 C 628.4,736.8 635.2,735.2 641.7,736.6" fill="none" stroke="#fff" stroke-width=".7" stroke-linecap="round"/>
<path class="h" d="M 582.2,737.7 L 584.2,731.8 M 601.2,743.1 L 602.3,734.1 M 623.6,729.8 L 620.2,727.7 M 621.8,734.7 L 617.8,731.8 M 582.2,732.5 C 584.2,731.1 586.9,731.8 587.6,733.9 M 601.2,736.6 C 602.6,735.2 606.0,735.5 606.6,737.3 M 614.8,736.6 C 616.8,735.2 620.2,735.9 620.9,737.9"/>
<polyline class="d2" points="602.0,683.0 602.0,697.0"/>
<polyline class="d2" points="602.0,702.0 602.0,734.0"/>
<polyline class="d2" points="602.0,738.0 602.0,752.0"/>
<polyline class="d2" points="603.0,623.0 603.0,660.0"/>
<path class="w" d="M 565.9,778.4 C 566.2,772.7 571.1,767.8 584.1,761.6 C 589.0,760.0 595.5,759.7 599.6,760.5 L 632.2,769.1 C 636.3,770.8 638.3,773.5 638.3,777.6 L 637.9,784.9 C 637.6,789.8 635.5,793.1 633.9,794.7 L 633.9,826.5 L 642.8,827.3 C 646.1,829.0 646.9,833.0 645.3,837.1 C 642.8,842.8 637.9,846.1 633.9,848.5 L 621.6,857.5 L 616.7,864.8 C 610.2,869.7 600.4,869.7 593.9,866.5 L 589.0,861.6 L 580.1,857.5 C 572.7,854.2 567.8,849.4 567.0,842.0 L 573.5,834.4 L 569.5,792.6 C 567.0,789.0 565.9,784.1 565.9,778.4 Z"/>
<path class="h" d="M 565.9,778.4 C 566.2,772.7 571.1,767.8 584.1,761.6 C 589.0,760.0 595.5,759.7 599.6,760.5 L 632.2,769.1 C 636.3,770.8 638.3,773.5 638.3,777.6 L 637.9,784.9 C 637.6,789.8 635.5,793.1 633.9,794.7"/>
<path class="l" d="M 565.9,778.4 C 567.8,781.7 571.1,783.3 577.6,784.1 L 610.2,789.4 C 621.6,789.8 633.0,785.8 638.3,777.6 M 569.5,792.6 C 577.6,793.9 593.9,798.0 608.6,800.8 C 618.4,801.3 629.8,798.0 633.9,794.7 M 569.8,790.7 C 577.6,792.3 593.9,795.9 608.6,798.8 C 618.4,799.3 629.8,795.9 634.4,792.6"/>
<path class="h" d="M 569.5,792.6 C 577.6,793.9 593.9,798.0 608.6,800.8 C 618.4,801.3 629.8,798.0 633.9,794.7"/>
<path class="l" d="M 569.5,779.2 C 570.3,774.3 574.3,771.1 585.8,765.4 C 589.8,763.8 595.5,763.3 598.8,763.9 L 629.8,771.9 C 633.9,773.0 635.0,775.2 634.4,778.4 M 569.5,779.2 C 572.7,781.7 577.6,782.2 580.1,782.5 L 609.4,787.1 C 618.4,787.4 629.8,784.1 634.4,778.4"/>
<path class="l" d="M 591.5,762.1 L 591.5,776.0 L 599.6,777.6 L 599.6,763.3 M 593.1,762.9 L 593.1,776.3 M 598.0,764.2 L 598.0,777.3 M 588.2,776.0 L 589.0,784.1 M 593.9,776.8 L 594.2,784.9 M 601.3,777.6 L 601.3,785.8 M 613.5,777.6 L 613.5,787.1 M 616.7,778.4 L 616.7,786.7 M 580.1,773.5 L 580.1,782.2 M 574.3,778.4 L 580.1,776.0"/>
<path class="h" d="M 599.6,771.1 L 601.3,785.8 M 597.5,777.3 L 598.8,785.4"/>
<path class="l" d="M 574.0,785.8 L 577.0,786.4 L 577.0,792.3 L 574.0,791.6 Z"/>
<path class="l" d="M 580.1,786.7 L 583.0,787.4 L 583.0,793.3 L 580.1,792.6 Z"/>
<path class="l" d="M 586.6,787.7 L 589.5,788.4 L 589.5,794.2 L 586.6,793.6 Z"/>
<path class="h" d="M 593.1,788.9 L 596.0,789.5 L 596.0,795.4 L 593.1,794.7 Z"/>
<path class="h" d="M 599.6,789.8 L 602.6,790.5 L 602.6,796.4 L 599.6,795.7 Z"/>
<path class="l" d="M 606.6,791.0 L 609.6,791.6 L 609.6,797.5 L 606.6,796.9 Z"/>
<path class="k" d="M 600.1,789.8 L 602.4,790.3 L 602.4,796.9 L 600.1,796.2 Z"/>
<path class="l" d="M 602.1,765.4 L 605.0,766.2 L 605.0,771.6 L 602.1,770.8 Z"/>
<path class="l" d="M 607.8,766.8 L 610.7,767.7 L 610.7,773.0 L 607.8,772.2 Z"/>
<path class="l" d="M 613.5,768.5 L 616.4,769.3 L 616.4,774.7 L 613.5,773.9 Z"/>
<path class="l" d="M 619.2,769.9 L 622.1,770.8 L 622.1,776.1 L 619.2,775.3 Z"/>
<path class="l" d="M 624.9,771.6 L 627.8,772.4 L 627.8,777.8 L 624.9,777.0 Z"/>
<path class="l" d="M 571.1,793.9 L 574.7,834.4 M 576.0,794.9 L 578.4,835.0 M 578.4,800.4 L 603.7,807.0 L 603.7,829.0 L 580.1,829.0 Z M 580.1,802.1 L 602.1,807.9 L 602.1,827.3 M 607.0,801.3 L 609.4,849.4 M 610.2,801.7 L 612.2,848.5 M 615.1,801.7 L 616.7,847.7 M 621.6,800.4 L 621.6,842.8"/>
<path class="h" d="M 578.4,800.4 L 580.1,829.0 L 603.7,829.0 M 607.0,801.3 L 609.4,849.4"/>
<path class="l" d="M 573.5,834.4 L 605.3,840.4 L 610.2,851.0 L 633.9,842.8 M 567.0,842.0 C 569.5,837.9 571.9,835.5 573.5,834.4 M 584.1,846.1 L 593.9,847.7 L 600.4,854.6 L 598.8,859.1 L 589.0,857.5 L 580.1,851.0 Z M 584.1,846.1 L 580.1,851.0 M 593.9,847.7 L 592.3,852.6 L 598.8,859.1 M 592.3,852.6 L 583.3,850.7 M 589.0,861.6 C 593.9,864.8 610.2,864.8 616.7,859.1 L 621.6,857.5 M 593.9,866.5 L 593.9,862.7 M 600.4,868.9 L 600.4,864.8 M 607.0,869.2 L 607.0,864.8 M 613.5,867.0 L 613.5,862.7"/>
<path class="h" d="M 567.0,842.0 C 567.8,849.4 572.7,854.2 580.1,857.5 M 605.3,840.4 L 610.2,851.0"/>
<path class="h" d="M 617.6,843.6 L 629.8,830.6 L 633.9,826.5 M 620.0,844.5 L 631.4,833.9 M 626.5,833.0 L 629.8,842.8"/>
<ellipse class="w" cx="633.9" cy="838.3" rx="3.3" ry="3.6"/>
<ellipse class="l" cx="633.9" cy="838.3" rx="2.0" ry="2.3"/>
<path class="l" d="M 636.3,835.5 L 642.8,829.8 M 637.1,841.2 L 644.8,836.3"/>
<path class="l" d="M 546.3,804.5 L 569.5,811.0 L 569.5,831.4 L 546.3,831.4 Z"/>
<polyline class="d2" points="545.0,784.1 569.5,792.3"/>
<polyline class="d2" points="638.8,792.3 665.0,771.9"/>
<polyline class="d2" points="602.0,752.0 602.0,760.0"/>
<polyline class="d2" points="602.0,790.0 602.0,905.0"/>
<polyline class="d2" points="590.7,855.9 559.7,877.1"/>
<path class="w" d="M 569.2,926.4 C 571.4,921.9 574.4,919.7 577.4,917.4 L 587.1,912.6 L 610.3,912.2 L 629.7,917.4 L 636.5,919.7 L 636.9,924.9 L 632.7,945.8 C 631.2,949.6 629.7,951.5 626.7,952.5 C 620.8,955.1 616.3,956.3 611.8,956.3 C 605.8,956.3 599.8,955.5 595.4,954.8 L 575.9,948.1 C 574.1,947.0 573.2,945.8 572.9,944.3 Z"/>
<path class="h" d="M 569.2,926.4 C 571.4,921.9 574.4,919.7 577.4,917.4 L 587.1,912.6 L 610.3,912.2 L 629.7,917.4 L 636.5,919.7 M 569.2,926.4 L 578.9,931.2 L 584.9,941.6 L 598.3,945.5 L 605.8,939.2 L 629.7,928.8 L 636.9,921.9"/>
<path class="l" d="M 572.2,926.1 L 579.7,918.9 L 588.2,915.0 L 609.6,914.4 L 627.0,918.9 L 625.3,928.6 M 575.9,930.1 L 575.9,922.7 M 581.9,923.4 L 582.2,919.7 M 587.1,922.7 L 587.1,916.7 M 589.4,917.4 C 591.6,919.7 593.9,922.7 596.1,923.4 M 604.3,915.9 L 610.3,922.7 L 614.0,923.4 M 614.0,919.7 L 620.8,921.2 L 620.8,927.1 L 614.0,925.6 Z M 608.1,925.6 L 612.5,926.4 L 612.5,934.2 L 608.1,933.3 Z M 625.3,919.7 L 625.3,927.1 M 628.2,920.4 L 627.9,927.1 M 631.2,921.2 L 632.7,919.7 L 633.5,924.9 M 615.5,927.1 L 616.3,933.1 M 584.9,930.9 C 586.4,929.1 590.1,929.1 591.6,930.9 L 591.6,934.2 C 590.1,935.7 586.4,935.7 584.9,934.2 Z M 578.9,931.2 L 584.9,935.4 M 586.4,939.8 L 598.3,942.8 L 604.3,937.6"/>
<path class="hh" d="M 599.8,914.4 L 599.8,930.1 M 593.9,931.6 L 605.8,934.2 M 594.6,933.6 L 605.1,936.1 M 595.4,929.7 L 605.8,932.4 M 596.1,935.4 L 604.3,937.2"/>
<path class="l" d="M 620.5,956.3 L 620.5,968.2"/>
<path d="M 620.5,968.2 L 620.5,980.9" fill="none" stroke="#111" stroke-width="3"/>
<ellipse cx="620.5" cy="981.7" rx="3" ry="1.6" fill="#111"/>
<polyline class="d2" points="602.0,895.0 602.0,912.0"/>
<polyline class="d2" points="639.0,792.0 689.6,753.0"/>
<path class="l" d="M 689.6,753.0 L 689.6,765.0"/>
<ellipse cx="689.6" cy="766.6" rx="2.8" ry="1.1" fill="#111" stroke="#111" stroke-width=".8"/>
<ellipse cx="689.6" cy="774.6" rx="2.6" ry="1.1" fill="#fff" stroke="#111" stroke-width="1.5"/>
<path class="w" d="M 688.0,780.0 L 688.0,817.0 L 691.2,817.0 L 691.2,780.0 Z"/>
<path d="M 689.6,780.6 L 689.6,807.4" fill="none" stroke="#111" stroke-width="2.6"/>
<path class="w" d="M 686.6,817.0 L 692.6,817.0 L 692.6,821.0 C 691.0,822.6 688.2,822.6 686.6,821.0 Z"/>
<path class="l" d="M 652.4,792.6 C 660.0,794.0 670.0,796.0 678.0,799.4 L 678.0,818.6 C 670.0,819.0 662.0,819.4 653.6,820.6 Z"/>
<polyline class="d2" points="639.6,816.6 647.0,812.0 647.0,917.4 678.0,894.0"/>
<path class="w" d="M 678.0,887.4 L 683.6,883.4 L 687.0,885.0 L 687.0,892.0 L 681.6,896.2 L 678.0,894.6 Z"/>
<path class="l" d="M 678.0,887.4 L 681.6,889.4 L 687.0,885.0 M 681.6,889.4 L 681.6,896.2"/>
<path d="M 688.0,884.6 L 693.2,881.0" fill="none" stroke="#111" stroke-width="3.2" stroke-linecap="round"/>
<path class="l" d="M 694.0,880.2 L 702.4,874.2"/>
<path class="w" d="M 702.4,866.0 L 708.4,861.4 L 717.6,863.0 L 717.6,871.4 L 712.0,877.0 L 703.0,875.4 Z"/>
<path class="h" d="M 702.4,866.0 L 712.0,868.0 L 717.6,863.0 M 712.0,868.0 L 712.0,877.0"/>
<path class="h" d="M 705.0,869.4 L 709.0,870.2 L 709.0,874.0 L 705.0,873.2 Z M 708.4,861.4 L 717.6,863.0"/>
<polyline class="d2" points="511.6,773.0 568.0,793.0"/>
<path class="l" d="M 511.6,773.0 L 511.6,782.0"/>
<ellipse cx="511.6" cy="784" rx="2.8" ry="1.1" fill="#111" stroke="#111" stroke-width="1.6"/>
<ellipse cx="511.6" cy="789.2" rx="2.8" ry="1.1" fill="#fff" stroke="#111" stroke-width="1.9"/>
<path class="w" d="M 510.0,794.0 L 510.0,829.0 L 513.2,829.0 L 513.2,794.0 Z"/>
<path d="M 511.6,794.4 L 511.6,820.0" fill="none" stroke="#111" stroke-width="2.4"/>
<path class="w" d="M 508.8,829.0 L 514.8,829.0 L 514.8,832.4 C 513.2,834.0 510.4,834.0 508.8,832.4 Z"/>
<path class="l" d="M 545.4,804.4 L 569.6,812.4 L 569.6,831.0 L 545.4,831.6 Z"/>
<polyline class="d2" points="590.0,856.0 561.0,878.0"/>
<path class="w" d="M 553.6,878.4 L 559.0,875.6 L 561.6,877.0 L 561.6,881.6 L 556.0,885.0 L 553.6,883.6 Z"/>
<path class="l" d="M 553.6,878.4 L 556.0,880.0 L 561.6,877.0 M 556.0,880.0 L 556.0,885.0"/>
<path d="M 550.0,886.4 L 553.6,884.0" fill="none" stroke="#111" stroke-width="3" stroke-linecap="round"/>
<ellipse class="w" cx="547.4" cy="889.2" rx="2.4" ry="2.6"/>
<path class="l" d="M 545.4,891.0 L 533.0,901.0"/>
<path class="w" d="M 518.0,901.6 L 525.6,897.0 L 533.0,900.0 L 533.0,909.0 L 526.4,914.0 L 519.0,912.4 Z"/>
<path class="l" d="M 518.0,901.6 L 526.0,904.4 L 533.0,900.0 M 526.0,904.4 L 526.4,914.0 M 518.0,907.0 L 520.0,907.6"/>
<path class="w" d="M 167.4,747.6 L 182.6,734.6 L 237.0,750.9 C 241.3,752.4 243.9,754.6 243.5,758.0 L 242.4,763.9 C 245.7,786.7 246.7,819.3 241.3,849.8 L 237.0,858.9 L 230.4,861.5 L 226.1,867.6 L 215.2,868.5 L 208.7,863.3 L 160.9,868.5 L 155.4,867.2 L 154.3,854.6 L 170.7,847.6 L 178.3,843.3 L 213.0,841.1 C 218.5,837.8 220.7,832.4 219.6,819.3 C 214.1,810.7 212.0,802.0 211.3,786.7 C 210.9,775.9 208.7,769.3 204.3,764.1 L 168.5,759.8 Z"/>
<path class="h" d="M 167.4,747.6 L 182.6,734.6 L 237.0,750.9 C 241.3,752.4 243.9,754.6 243.5,758.0 L 242.4,763.9 C 245.7,786.7 246.7,819.3 241.3,849.8 L 237.0,858.9 M 160.9,868.5 L 155.4,867.2 L 154.3,854.6 L 170.7,847.6 L 178.3,843.3 L 213.0,841.1 C 218.5,837.8 220.7,832.4 219.6,819.3 C 214.1,810.7 212.0,802.0 211.3,786.7 C 210.9,775.9 208.7,769.3 204.3,764.1 L 168.5,759.8 L 167.4,747.6"/>
<path class="l" d="M 168.5,752.0 L 235.9,759.6 C 239.1,759.6 242.4,758.5 243.5,758.0 M 168.5,759.8 L 167.4,747.6 M 170.7,747.6 L 236.5,755.2 M 237.0,767.2 L 204.3,764.1 M 237.0,767.2 C 240.2,766.1 242.0,765.0 242.4,763.9"/>
<path class="h" d="M 214.1,773.7 C 223.9,772.0 234.8,770.4 242.4,768.3 M 214.1,773.7 L 217.4,806.3 C 219.6,817.2 225.0,825.9 237.0,835.7 C 239.1,836.7 241.3,837.2 243.5,836.7 M 215.2,772.0 L 214.3,774.1"/>
<path class="h" d="M 220.7,784.6 L 233.7,782.4 L 232.6,788.0 L 229.3,788.9 L 227.2,806.3 L 235.9,817.2 L 235.9,822.8 L 225.0,814.1 L 222.8,788.9 Z"/>
<path class="l" d="M 217.4,806.3 C 215.2,810.7 215.2,815.0 219.6,819.3 M 154.3,854.6 L 208.7,849.8 C 221.7,848.7 232.6,845.4 241.3,842.2 M 156.5,858.5 L 208.7,854.1 C 221.7,853.0 232.6,849.8 240.2,847.6 M 155.4,867.2 L 156.5,858.5 M 208.7,863.3 L 215.2,865.0 L 226.1,865.0 L 230.4,861.5"/>
<path class="h" d="M 226.1,824.8 C 230.4,830.2 235.9,834.6 243.5,835.7"/>
<polyline class="d2" points="250.0,771.3 282.6,749.3"/>
<path d="M 317.3,765.6 C 313.2,785.6 290.8,791.7 277.5,794.8" fill="none" stroke="#111" stroke-width="3.0"/>
<path d="M 317.3,765.6 C 313.2,785.6 290.8,791.7 277.5,794.8" fill="none" stroke="#fff" stroke-width="1.0"/>
<path d="M 321.3,767.3 C 320.3,789.7 294.8,799.9 278.5,805.0" fill="none" stroke="#111" stroke-width="3.0"/>
<path d="M 321.3,767.3 C 320.3,789.7 294.8,799.9 278.5,805.0" fill="none" stroke="#fff" stroke-width="1.0"/>
<path d="M 326.4,762.2 C 339.7,773.4 339.7,797.8 323.4,806.0 C 315.2,808.0 310.1,810.0 309.5,818.2" fill="none" stroke="#111" stroke-width="3.0"/>
<path d="M 326.4,762.2 C 339.7,773.4 339.7,797.8 323.4,806.0 C 315.2,808.0 310.1,810.0 309.5,818.2" fill="none" stroke="#fff" stroke-width="1.0"/>
<path d="M 318.3,767.3 C 331.5,785.6 327.4,797.8 317.3,806.0 C 312.2,808.0 311.1,811.1 311.1,818.2" fill="none" stroke="#111" stroke-width="2.6"/>
<path d="M 318.3,767.3 C 331.5,785.6 327.4,797.8 317.3,806.0 C 312.2,808.0 311.1,811.1 311.1,818.2" fill="none" stroke="#fff" stroke-width="0.6"/>
<path class="w" d="M 280.2,728.5 L 284.6,724.5 L 298.9,724.9 L 305.0,767.7 L 300.9,772.5 L 293.8,771.3 L 288.7,743.8 C 286.7,736.7 283.6,732.6 280.2,728.5 Z"/>
<path class="l" d="M 280.2,728.5 L 293.8,728.9 L 298.9,724.9 M 293.8,728.9 L 300.9,772.5 M 291.8,730.6 L 298.9,770.3 M 298.9,743.8 L 303.4,743.2 M 299.9,753.4 L 304.0,753.0"/>
<path class="f" d="M 283.6,727.7 L 286.3,726.1 L 296.1,726.3"/>
<path class="w" d="M 302.0,742.2 L 309.1,736.7 L 323.4,737.7 L 326.4,743.8 L 327.0,759.5 L 321.3,765.2 L 305.0,764.4 Z"/>
<path class="l" d="M 302.0,742.2 L 319.3,743.2 L 326.4,743.8 M 319.3,743.2 L 321.3,765.2 M 319.3,743.2 L 323.4,737.7"/>
<path class="hh" d="M 311.1,737.7 L 318.3,738.7"/>
<ellipse class="k" cx="321.7" cy="747.3" rx="0.8" ry="0.8"/>
<ellipse class="k" cx="323.0" cy="759.1" rx="0.8" ry="0.8"/>
<ellipse class="k" cx="325.0" cy="755.0" rx="0.6" ry="0.6"/>
<path class="w" d="M 263.2,792.1 L 267.3,788.9 L 276.5,789.7 L 277.7,807.0 L 271.6,809.2 L 264.7,807.6 Z"/>
<path class="l" d="M 263.2,792.1 L 270.4,792.9 L 276.5,789.7 M 270.4,792.9 L 271.6,809.2"/>
<path class="h" d="M 265.9,795.4 L 269.6,795.8 L 270.0,806.0 L 266.3,805.2 Z"/>
<path class="h" d="M 267.9,797.8 L 267.9,802.9 M 273.4,792.7 L 274.5,807.6"/>
<path class="w" d="M 308.1,824.3 L 321.3,875.7 C 324.4,877.7 328.5,876.9 330.5,874.2 L 318.3,823.3 Z"/>
<path class="h" d="M 321.3,872.2 C 324.4,874.2 327.4,873.6 329.9,871.2"/>
<ellipse class="w" cx="312.2" cy="821.9" rx="8.2" ry="3.1" transform="rotate(-8 312.2 821.9)"/>
<ellipse class="w" cx="310.7" cy="819.2" rx="2.0" ry="1.0" transform="rotate(-8 310.7 819.2)"/>
<path class="l" d="M 308.7,819.2 L 308.7,814.1 M 312.8,818.6 L 312.8,813.7"/>
<path class="w" d="M 333.1,819.2 C 333.6,816.6 336.6,815.8 339.7,816.2 L 348.8,816.6 C 351.9,817.2 352.3,820.6 349.9,822.3 L 337.6,823.5 C 334.6,823.5 332.7,821.9 333.1,819.2 Z"/>
<ellipse class="h" cx="337.6" cy="820.2" rx="2.4" ry="1.6"/>
<ellipse class="h" cx="347.8" cy="819.4" rx="1.8" ry="1.4"/>
<path d="M 361.1,810.0 L 355.0,815.1" fill="none" stroke="#111" stroke-width="2.2"/>
<path class="l" d="M 355.0,815.1 L 351.5,818.2"/>
<ellipse class="k" cx="363.1" cy="808.0" rx="2.0" ry="2.0"/>
<path d="M 326.2,877.7 C 332.8,900.9 326.7,911.9 307.2,913.1 C 294.9,913.6 287.6,913.1 275.4,924.2 C 260.7,940.1 243.6,952.3 228.9,952.3 C 219.1,951.8 214.2,944.9 211.3,935.6" fill="none" stroke="#111" stroke-width="4.6"/>
<path d="M 326.2,877.7 C 332.8,900.9 326.7,911.9 307.2,913.1 C 294.9,913.6 287.6,913.1 275.4,924.2 C 260.7,940.1 243.6,952.3 228.9,952.3 C 219.1,951.8 214.2,944.9 211.3,935.6" fill="none" stroke="#fff" stroke-width="2.4"/>
<path class="w" d="M 193.5,891.6 L 195.2,903.4 L 199.1,902.9 L 196.6,891.1 C 196.1,889.7 193.7,890.2 193.5,891.6 Z"/>
<path class="w" d="M 206.4,889.2 L 208.1,900.9 L 211.8,900.4 L 209.8,888.7 C 209.3,887.2 206.7,887.7 206.4,889.2 Z"/>
<path class="w" d="M 191.0,903.9 C 194.7,900.9 211.8,898.5 216.7,900.9 L 218.2,907.8 L 212.3,925.9 L 204.5,927.8 L 193.5,910.7 Z"/>
<path class="h" d="M 191.0,903.9 C 194.7,900.9 211.8,898.5 216.7,900.9 L 218.2,907.8 C 211.8,910.7 198.3,911.9 193.5,910.7 Z"/>
<path class="k" d="M 200.1,914.4 L 211.3,912.7 L 209.8,922.4 L 203.5,923.9 Z"/>
<path d="M 207.4,927.3 L 212.3,937.6" fill="none" stroke="#111" stroke-width="4.6" stroke-dasharray="1.2 .6"/>
<path class="l" d="M 197.1,906.3 C 202.0,903.4 209.3,903.4 214.2,904.6"/>
<path class="w" d="M 35.7,661.4 L 40.8,658.3 L 50.9,659.6 L 46.9,663.6 Z"/>
<path class="h" d="M 35.7,661.4 L 46.9,663.6 L 50.9,659.6 M 35.7,661.4 L 40.8,658.3 L 50.9,659.6"/>
<ellipse class="k" cx="43.8" cy="660.4" rx="0.6" ry="0.4"/>
<path class="w" d="M 40.8,664.0 L 40.8,670.6 L 46.5,670.6 L 46.5,664.5 Z"/>
<path d="M 43.6,670.2 L 43.6,684.0" fill="none" stroke="#111" stroke-width="5.6" stroke-dasharray="1 .5"/>
<polyline class="d2" points="48.9,681.8 106.0,693.4"/>
<path class="w" d="M 98.8,722.5 C 94.8,707.3 89.3,686.9 93.3,670.6 C 96.2,659.4 101.5,654.3 107.0,654.3 L 114.1,655.3 C 122.3,658.3 124.7,670.6 123.3,682.8 C 121.9,697.1 117.2,713.4 113.1,723.6 L 110.0,726.0 Z"/>
<path class="l" d="M 113.1,657.5 C 107.6,660.0 103.9,670.6 103.9,684.8 C 103.9,699.1 106.0,711.3 109.0,721.1 L 113.1,723.6 M 113.1,657.5 C 111.1,670.6 111.7,690.9 107.6,708.3 M 107.0,654.3 C 110.0,654.7 112.5,655.9 113.1,657.5 M 106.0,693.4 L 106.0,707.3 M 109.0,721.1 L 110.0,726.0"/>
<path class="h" d="M 98.8,722.5 C 94.8,707.3 89.3,686.9 93.3,670.6 C 96.2,659.4 101.5,654.3 107.0,654.3"/>
<path d="M 8.2,749.6 L 25.5,751.7" fill="none" stroke="#111" stroke-width="3.6" stroke-linecap="round"/>
<path d="M 8.2,749.6 L 25.5,751.7" fill="none" stroke="#fff" stroke-width="1.5" stroke-linecap="round"/>
<path d="M 26.1,751.7 L 32.6,750.0" fill="none" stroke="#111" stroke-width="3.6" stroke-linecap="round"/>
<path d="M 26.1,751.7 L 32.6,750.0" fill="none" stroke="#fff" stroke-width="1.5" stroke-linecap="round"/>
<path d="M 35.7,750.0 L 52.0,754.1" fill="none" stroke="#111" stroke-width="3.6" stroke-linecap="round"/>
<path d="M 35.7,750.0 L 52.0,754.1" fill="none" stroke="#fff" stroke-width="1.5" stroke-linecap="round"/>
<path d="M 55.4,754.7 L 83.6,760.2" fill="none" stroke="#111" stroke-width="3.6" stroke-linecap="round"/>
<path d="M 55.4,754.7 L 83.6,760.2" fill="none" stroke="#fff" stroke-width="1.5" stroke-linecap="round"/>
<path class="l" d="M 83.6,760.2 L 95.8,762.3"/>
<path class="w" d="M 94.8,756.6 L 106.0,745.0 L 121.9,747.2 L 122.3,777.6 L 112.5,785.9 L 95.4,783.1 Z"/>
<path class="l" d="M 94.8,756.6 L 112.5,759.2 L 121.9,747.2 M 112.5,759.2 L 112.5,785.9 M 98.2,754.5 L 106.4,747.4 L 119.2,748.4 L 113.1,756.6 Z M 97.8,764.3 L 107.0,765.5 L 107.0,775.5 L 97.8,774.5 Z M 107.0,765.5 L 110.0,762.3 L 110.0,772.5 L 107.0,775.5"/>
<path class="h" d="M 94.8,756.6 L 95.4,783.1 L 112.5,785.9 M 121.9,747.2 L 122.3,777.6 M 110.0,760.2 L 110.0,773.5"/>
<ellipse class="k" cx="116.6" cy="765.3" rx="0.8" ry="1.2"/>
<path class="w" d="M 94.4,807.9 C 94.9,805.7 98.4,802.5 100.8,802.2 C 102.6,802.2 102.9,804.4 102.9,806.0 L 103.2,817.2 L 115.2,819.8 L 115.2,810.5 C 116.0,807.9 120.0,805.7 121.6,806.0 C 123.0,806.3 122.7,808.4 122.7,810.0 L 122.7,820.7 L 112.8,827.8 L 96.5,823.0 Z"/>
<path class="l" d="M 96.5,823.0 L 103.2,817.2 M 115.2,819.8 L 121.6,815.6 L 122.7,820.7 M 112.8,827.8 L 115.2,819.8 M 94.4,807.9 L 96.5,823.0 M 98.4,822.0 L 104.0,818.5 L 114.4,820.7 L 112.0,825.5 Z"/>
<path class="h" d="M 94.4,807.9 L 96.5,823.0 L 112.8,827.8 L 122.7,820.7"/>
<ellipse class="h" cx="108.0" cy="822.8" rx="3.5" ry="1.4"/>
<path class="w" d="M 99.2,870.8 C 98.4,879.6 97.1,892.4 97.6,902.0 C 98.1,914.8 98.4,924.4 98.7,930.8 L 96.5,932.7 L 96.5,936.4 C 100.0,942.0 119.2,942.0 123.2,936.4 L 123.2,932.7 L 120.8,930.8 C 121.4,918.0 122.1,902.0 121.6,892.4 C 121.1,882.8 120.0,876.4 119.2,870.8 Z"/>
<path class="l" d="M 96.5,932.7 C 101.6,936.4 118.4,936.4 123.2,932.7 M 98.7,930.8 C 103.2,933.2 116.0,933.2 120.8,930.8 M 97.1,934.8 C 101.6,938.8 118.4,938.8 122.7,934.8"/>
<ellipse class="h" cx="106.4" cy="903.9" rx="9.0" ry="17.9"/>
<ellipse class="l" cx="106.4" cy="903.9" rx="7.0" ry="15.7"/>
<path class="h" d="M 100.0,876.4 C 108.0,876.4 115.2,882.8 117.6,892.4 M 99.7,881.2 C 106.4,882.0 112.8,886.0 115.2,894.0 M 100.0,926.0 C 108.0,929.2 117.6,924.4 120.5,916.4 M 99.2,922.0 C 106.4,924.4 114.4,921.2 118.4,914.8"/>
<path class="h" d="M 99.2,870.8 C 98.4,879.6 97.1,892.4 97.6,902.0 C 98.1,914.8 98.4,924.4 98.7,930.8 M 119.2,870.8 C 120.0,876.4 121.1,882.8 121.6,892.4 C 122.1,902.0 121.4,918.0 120.8,930.8"/>
<ellipse class="w" cx="108.8" cy="859.6" rx="21.6" ry="8.0"/>
<ellipse class="h" cx="108.8" cy="859.6" rx="21.6" ry="8.0"/>
<ellipse class="l" cx="108.8" cy="861.2" rx="20.5" ry="7.4"/>
<ellipse class="w" cx="108.8" cy="858.8" rx="12.8" ry="4.8"/>
<ellipse class="hh" cx="108.8" cy="858.8" rx="12.8" ry="4.8"/>
<ellipse class="h" cx="108.8" cy="858.5" rx="9.9" ry="3.5"/>
<ellipse class="h" cx="108.8" cy="858.0" rx="6.7" ry="2.2"/>
<path class="l" d="M 96.0,861.7 C 100.0,866.0 117.6,866.0 121.6,861.7 M 96.5,863.3 C 100.8,867.4 116.8,867.4 121.1,863.3"/>
<ellipse class="k" cx="93.6" cy="856.4" rx="1.3" ry="0.8"/>
<ellipse class="k" cx="124.8" cy="862.8" rx="1.3" ry="0.8"/>
<path class="hh" d="M 106.4,858.0 L 111.2,858.0"/>
<path class="hh" d="M 101.9,870.0 C 104.8,871.6 113.6,871.6 116.3,870.0"/>
<polyline class="d2" points="108.6,727.0 108.6,742.0"/>
<polyline class="d2" points="108.6,786.0 108.6,806.0"/>
<polyline class="d2" points="108.6,838.0 108.6,856.0"/>
<polyline class="d2" points="60.0,101.2 114.0,112.0"/>
<polyline class="d2" points="147.0,118.6 366.5,162.6"/>
<polyline class="d2" points="24.0,364.5 116.0,382.9"/>
<polyline class="d2" points="147.0,389.0 217.0,403.0"/>
<polyline class="d2" points="233.0,406.2 262.0,412.0"/>
<polyline class="d2" points="297.0,419.0 364.5,432.5"/>
<polyline class="d2" points="24.0,507.0 59.0,514.1"/>
<polyline class="d2" points="108.0,524.0 124.0,527.2"/>
<polyline class="d2" points="152.0,532.9 196.0,541.8"/>
<polyline class="d2" points="223.0,547.3 241.0,551.0"/>
<polyline class="d2" points="285.0,559.8 303.0,563.5"/>
<polyline class="d2" points="323.0,567.5 397.0,582.5"/>
<line class="l" x1="34.0" y1="36.5" x2="47.5" y2="87.5"/>
<circle class="b" cx="32.0" cy="29.0" r="7.8"/>
<text class="t t1" transform="translate(32.0,34.3) scale(0.8,1)">1</text>
<line class="l" x1="65.2" y1="41.7" x2="74.0" y2="99.0"/>
<circle class="b" cx="64.0" cy="34.0" r="7.8"/>
<text class="t t1" transform="translate(64.0,39.3) scale(0.8,1)">2</text>
<line class="l" x1="94.1" y1="47.8" x2="94.5" y2="96.0"/>
<circle class="b" cx="94.0" cy="40.0" r="7.8"/>
<text class="t t1" transform="translate(94.0,45.3) scale(0.8,1)">3</text>
<line class="l" x1="135.8" y1="54.5" x2="122.5" y2="101.0"/>
<circle class="b" cx="138.0" cy="47.0" r="7.8"/>
<text class="t t1" transform="translate(138.0,52.3) scale(0.8,1)">4</text>
<line class="l" x1="185.9" y1="67.7" x2="191.5" y2="116.0"/>
<circle class="b" cx="185.0" cy="60.0" r="7.8"/>
<text class="t t1" transform="translate(185.0,65.3) scale(0.8,1)">5</text>
<line class="l" x1="229.0" y1="76.5" x2="243.0" y2="129.0"/>
<circle class="b" cx="227.0" cy="69.0" r="7.8"/>
<text class="t t1" transform="translate(227.0,74.3) scale(0.8,1)">6</text>
<line class="l" x1="254.9" y1="82.6" x2="266.5" y2="127.5"/>
<circle class="b" cx="253.0" cy="75.0" r="7.8"/>
<text class="t t1" transform="translate(253.0,80.3) scale(0.8,1)">7</text>
<line class="l" x1="280.4" y1="87.1" x2="293.5" y2="138.0"/>
<circle class="b" cx="278.5" cy="79.5" r="7.8"/>
<text class="t t1" transform="translate(278.5,84.8) scale(0.8,1)">6</text>
<line class="l" x1="307.6" y1="93.8" x2="311.5" y2="142.0"/>
<circle class="b" cx="307.0" cy="86.0" r="7.8"/>
<text class="t t1" transform="translate(307.0,91.3) scale(0.8,1)">8</text>
<line class="l" x1="340.4" y1="100.3" x2="340.0" y2="139.0"/>
<circle class="b" cx="340.5" cy="92.5" r="7.8"/>
<text class="t t1" transform="translate(340.5,97.8) scale(0.8,1)">9</text>
<line class="l" x1="38.6" y1="168.8" x2="40.0" y2="185.0"/>
<circle class="b" cx="38.0" cy="161.0" r="7.8"/>
<text class="t" transform="translate(38.0,166.3) scale(0.5,1)">10</text>
<line class="l" x1="69.9" y1="176.7" x2="68.0" y2="191.0"/>
<circle class="b" cx="71.0" cy="169.0" r="7.8"/>
<text class="t" transform="translate(71.0,174.3) scale(0.5,1)">11</text>
<line class="l" x1="101.4" y1="182.2" x2="81.0" y2="195.0"/>
<circle class="b" cx="108.0" cy="178.0" r="7.8"/>
<text class="t" transform="translate(108.0,183.3) scale(0.5,1)">12</text>
<line class="l" x1="156.9" y1="197.9" x2="143.0" y2="214.0"/>
<circle class="b" cx="162.0" cy="192.0" r="7.8"/>
<text class="t" transform="translate(162.0,197.3) scale(0.5,1)">13</text>
<line class="l" x1="231.2" y1="211.7" x2="236.0" y2="242.5"/>
<circle class="b" cx="230.0" cy="204.0" r="7.8"/>
<text class="t" transform="translate(230.0,209.3) scale(0.5,1)">14</text>
<line class="l" x1="266.7" y1="217.3" x2="251.5" y2="223.0"/>
<circle class="b" cx="274.0" cy="214.5" r="7.8"/>
<text class="t" transform="translate(274.0,219.8) scale(0.5,1)">15</text>
<line class="l" x1="336.4" y1="231.7" x2="301.5" y2="239.5"/>
<circle class="b" cx="344.0" cy="230.0" r="7.8"/>
<text class="t" transform="translate(344.0,235.3) scale(0.5,1)">16</text>
<line class="l" x1="32.8" y1="313.3" x2="34.0" y2="349.0"/>
<circle class="b" cx="32.5" cy="305.5" r="7.8"/>
<text class="t" transform="translate(32.5,310.8) scale(0.5,1)">17</text>
<line class="l" x1="70.1" y1="319.7" x2="65.5" y2="357.5"/>
<circle class="b" cx="71.0" cy="312.0" r="7.8"/>
<text class="t" transform="translate(71.0,317.3) scale(0.5,1)">18</text>
<line class="l" x1="118.5" y1="329.9" x2="131.0" y2="366.0"/>
<circle class="b" cx="116.0" cy="322.5" r="7.8"/>
<text class="t" transform="translate(116.0,327.8) scale(0.5,1)">19</text>
<line class="l" x1="163.2" y1="340.2" x2="167.5" y2="368.0"/>
<circle class="b" cx="162.0" cy="332.5" r="7.8"/>
<text class="t" transform="translate(162.0,337.8) scale(0.5,1)">20</text>
<line class="l" x1="220.1" y1="350.6" x2="230.0" y2="399.0"/>
<circle class="b" cx="218.5" cy="343.0" r="7.8"/>
<text class="t" transform="translate(218.5,348.3) scale(0.5,1)">21</text>
<line class="l" x1="265.7" y1="361.2" x2="242.0" y2="387.0"/>
<circle class="b" cx="271.0" cy="355.5" r="7.8"/>
<text class="t" transform="translate(271.0,360.8) scale(0.5,1)">22</text>
<line class="l" x1="325.4" y1="376.4" x2="316.5" y2="402.0"/>
<circle class="b" cx="328.0" cy="369.0" r="7.8"/>
<text class="t" transform="translate(328.0,374.3) scale(0.5,1)">23</text>
<line class="l" x1="51.6" y1="467.7" x2="47.5" y2="491.0"/>
<circle class="b" cx="53.0" cy="460.0" r="7.8"/>
<text class="t" transform="translate(53.0,465.3) scale(0.5,1)">24</text>
<line class="l" x1="81.3" y1="474.8" x2="77.5" y2="517.5"/>
<circle class="b" cx="82.0" cy="467.0" r="7.8"/>
<text class="t" transform="translate(82.0,472.3) scale(0.5,1)">25</text>
<line class="l" x1="107.5" y1="478.5" x2="89.0" y2="501.0"/>
<circle class="b" cx="112.5" cy="472.5" r="7.8"/>
<text class="t" transform="translate(112.5,477.8) scale(0.5,1)">22</text>
<line class="l" x1="145.1" y1="487.1" x2="136.0" y2="524.0"/>
<circle class="b" cx="147.0" cy="479.5" r="7.8"/>
<text class="t" transform="translate(147.0,484.8) scale(0.5,1)">26</text>
<line class="l" x1="176.2" y1="494.8" x2="170.4" y2="510.3"/>
<circle class="b" cx="179.0" cy="487.5" r="7.8"/>
<text class="t" transform="translate(179.0,492.8) scale(0.5,1)">27</text>
<line class="l" x1="208.4" y1="501.8" x2="206.0" y2="535.0"/>
<circle class="b" cx="209.0" cy="494.0" r="7.8"/>
<text class="t" transform="translate(209.0,499.3) scale(0.5,1)">28</text>
<circle class="b" cx="245.0" cy="504.0" r="7.8"/>
<text class="t" transform="translate(245.0,509.3) scale(0.5,1)">29</text>
<line class="l" x1="268.1" y1="517.0" x2="252.0" y2="550.0"/>
<circle class="b" cx="271.5" cy="510.0" r="7.8"/>
<text class="t" transform="translate(271.5,515.3) scale(0.5,1)">30</text>
<line class="l" x1="297.4" y1="518.8" x2="283.0" y2="530.0"/>
<circle class="b" cx="303.5" cy="514.0" r="7.8"/>
<text class="t" transform="translate(303.5,519.3) scale(0.5,1)">31</text>
<line class="l" x1="339.3" y1="528.2" x2="323.0" y2="550.0"/>
<circle class="b" cx="344.0" cy="522.0" r="7.8"/>
<text class="t" transform="translate(344.0,527.3) scale(0.5,1)">32</text>
<line class="l" x1="468.2" y1="23.9" x2="543.0" y2="54.0"/>
<circle class="b" cx="461.0" cy="21.0" r="7.8"/>
<text class="t" transform="translate(461.0,26.3) scale(0.5,1)">33</text>
<line class="l" x1="468.3" y1="55.8" x2="545.5" y2="86.0"/>
<circle class="b" cx="461.0" cy="53.0" r="7.8"/>
<text class="t" transform="translate(461.0,58.3) scale(0.5,1)">34</text>
<line class="l" x1="467.7" y1="92.4" x2="492.0" y2="115.5"/>
<circle cx="492.0" cy="115.5" r="1.3" fill="#111"/>
<circle class="b" cx="462.0" cy="87.0" r="7.8"/>
<text class="t" transform="translate(462.0,92.3) scale(0.5,1)">35</text>
<line class="l" x1="471.2" y1="186.8" x2="468.0" y2="167.5"/>
<circle class="b" cx="472.5" cy="194.5" r="7.8"/>
<text class="t" transform="translate(472.5,199.8) scale(0.5,1)">36</text>
<line class="l" x1="465.4" y1="210.9" x2="440.5" y2="200.0"/>
<circle class="b" cx="472.5" cy="214.0" r="7.8"/>
<text class="t" transform="translate(472.5,219.3) scale(0.5,1)">37</text>
<line class="l" x1="465.1" y1="230.0" x2="435.0" y2="220.0"/>
<circle class="b" cx="472.5" cy="232.5" r="7.8"/>
<text class="t" transform="translate(472.5,237.8) scale(0.5,1)">38</text>
<line class="l" x1="465.8" y1="252.1" x2="435.5" y2="240.0"/>
<circle class="b" cx="473.0" cy="255.0" r="7.8"/>
<text class="t" transform="translate(473.0,260.3) scale(0.5,1)">39</text>
<line class="l" x1="412.6" y1="247.3" x2="405.5" y2="207.5"/>
<circle class="b" cx="414.0" cy="255.0" r="7.8"/>
<text class="t" transform="translate(414.0,260.3) scale(0.5,1)">40</text>
<line class="l" x1="480.1" y1="302.9" x2="509.0" y2="310.0"/>
<circle class="b" cx="472.5" cy="301.0" r="7.8"/>
<text class="t" transform="translate(472.5,306.3) scale(0.5,1)">41</text>
<line class="l" x1="479.2" y1="329.1" x2="507.0" y2="346.0"/>
<circle class="b" cx="472.5" cy="325.0" r="7.8"/>
<text class="t" transform="translate(472.5,330.3) scale(0.5,1)">42</text>
<line class="l" x1="479.3" y1="351.9" x2="504.0" y2="366.0"/>
<circle class="b" cx="472.5" cy="348.0" r="7.8"/>
<text class="t" transform="translate(472.5,353.3) scale(0.5,1)">43</text>
<line class="l" x1="479.9" y1="375.5" x2="507.5" y2="385.0"/>
<circle class="b" cx="472.5" cy="373.0" r="7.8"/>
<text class="t" transform="translate(472.5,378.3) scale(0.5,1)">44</text>
<line class="l" x1="479.7" y1="398.1" x2="495.5" y2="405.0"/>
<circle class="b" cx="472.5" cy="395.0" r="7.8"/>
<text class="t" transform="translate(472.5,400.3) scale(0.5,1)">45</text>
<line class="l" x1="479.4" y1="421.7" x2="502.0" y2="434.0"/>
<circle class="b" cx="472.5" cy="418.0" r="7.8"/>
<text class="t" transform="translate(472.5,423.3) scale(0.5,1)">46</text>
<line class="l" x1="479.9" y1="441.6" x2="504.0" y2="450.0"/>
<circle cx="504.0" cy="450.0" r="1.3" fill="#111"/>
<circle class="b" cx="472.5" cy="439.0" r="7.8"/>
<text class="t" transform="translate(472.5,444.3) scale(0.5,1)">47</text>
<line class="l" x1="480.3" y1="463.0" x2="501.5" y2="463.0"/>
<circle class="b" cx="472.5" cy="463.0" r="7.8"/>
<text class="t" transform="translate(472.5,468.3) scale(0.5,1)">48</text>
<line class="l" x1="480.3" y1="485.0" x2="503.5" y2="485.0"/>
<circle class="b" cx="472.5" cy="485.0" r="7.8"/>
<text class="t" transform="translate(472.5,490.3) scale(0.5,1)">49</text>
<line class="l" x1="480.3" y1="506.8" x2="507.5" y2="509.5"/>
<circle class="b" cx="472.5" cy="506.0" r="7.8"/>
<text class="t" transform="translate(472.5,511.3) scale(0.5,1)">50</text>
<line class="l" x1="480.3" y1="528.0" x2="503.5" y2="529.5"/>
<circle class="b" cx="472.5" cy="527.5" r="7.8"/>
<text class="t" transform="translate(472.5,532.8) scale(0.5,1)">51</text>
<line class="l" x1="480.2" y1="548.6" x2="512.0" y2="545.0"/>
<circle class="b" cx="472.5" cy="549.5" r="7.8"/>
<text class="t" transform="translate(472.5,554.8) scale(0.5,1)">52</text>
<line class="l" x1="479.9" y1="570.4" x2="508.0" y2="560.5"/>
<circle class="b" cx="472.5" cy="573.0" r="7.8"/>
<text class="t" transform="translate(472.5,578.3) scale(0.5,1)">53</text>
<line class="l" x1="670.9" y1="20.6" x2="679.5" y2="54.0"/>
<circle class="b" cx="669.0" cy="13.0" r="7.8"/>
<text class="t" transform="translate(669.0,18.3) scale(0.5,1)">54</text>
<line class="l" x1="708.9" y1="20.8" x2="708.0" y2="72.5"/>
<circle class="b" cx="709.0" cy="13.0" r="7.8"/>
<text class="t" transform="translate(709.0,18.3) scale(0.5,1)">55</text>
<line class="l" x1="702.9" y1="135.3" x2="697.0" y2="140.0"/>
<circle class="b" cx="709.0" cy="130.5" r="7.8"/>
<text class="t" transform="translate(709.0,135.8) scale(0.5,1)">56</text>
<line class="l" x1="680.7" y1="294.8" x2="613.0" y2="321.0"/>
<circle class="b" cx="688.0" cy="292.0" r="7.8"/>
<text class="t" transform="translate(688.0,297.3) scale(0.5,1)">57</text>
<line class="l" x1="681.0" y1="331.4" x2="647.0" y2="348.0"/>
<circle class="b" cx="688.0" cy="328.0" r="7.8"/>
<text class="t" transform="translate(688.0,333.3) scale(0.5,1)">58</text>
<line class="l" x1="680.4" y1="365.6" x2="616.0" y2="379.5"/>
<circle class="b" cx="688.0" cy="364.0" r="7.8"/>
<text class="t" transform="translate(688.0,369.3) scale(0.5,1)">59</text>
<line class="l" x1="680.3" y1="392.5" x2="612.0" y2="406.0"/>
<circle class="b" cx="688.0" cy="391.0" r="7.8"/>
<text class="t" transform="translate(688.0,396.3) scale(0.5,1)">60</text>
<line class="l" x1="680.2" y1="419.8" x2="617.5" y2="426.0"/>
<circle class="b" cx="688.0" cy="419.0" r="7.8"/>
<text class="t" transform="translate(688.0,424.3) scale(0.5,1)">61</text>
<line class="l" x1="680.2" y1="453.4" x2="608.0" y2="448.2"/>
<circle class="b" cx="688.0" cy="454.0" r="7.8"/>
<text class="t" transform="translate(688.0,459.3) scale(0.5,1)">62</text>
<line class="l" x1="680.2" y1="486.7" x2="608.0" y2="484.0"/>
<circle class="b" cx="688.0" cy="487.0" r="7.8"/>
<text class="t" transform="translate(688.0,492.3) scale(0.5,1)">63</text>
<line class="l" x1="680.3" y1="524.6" x2="620.0" y2="513.4"/>
<circle class="b" cx="688.0" cy="526.0" r="7.8"/>
<text class="t" transform="translate(688.0,531.3) scale(0.5,1)">64</text>
<line class="l" x1="680.5" y1="558.8" x2="615.0" y2="540.0"/>
<circle class="b" cx="688.0" cy="561.0" r="7.8"/>
<text class="t" transform="translate(688.0,566.3) scale(0.5,1)">65</text>
<line class="l" x1="681.3" y1="598.1" x2="611.5" y2="557.5"/>
<circle class="b" cx="688.0" cy="602.0" r="7.8"/>
<text class="t" transform="translate(688.0,607.3) scale(0.5,1)">66</text>
<line class="l" x1="456.2" y1="625.5" x2="432.0" y2="627.0"/>
<circle class="b" cx="464.0" cy="625.0" r="7.8"/>
<text class="t" transform="translate(464.0,630.3) scale(0.5,1)">67</text>
<line class="l" x1="456.7" y1="650.2" x2="436.0" y2="658.0"/>
<circle class="b" cx="464.0" cy="647.5" r="7.8"/>
<text class="t" transform="translate(464.0,652.8) scale(0.5,1)">68</text>
<line class="l" x1="465.3" y1="699.3" x2="468.0" y2="683.0"/>
<circle class="b" cx="464.0" cy="707.0" r="7.8"/>
<text class="t" transform="translate(464.0,712.3) scale(0.5,1)">69</text>
<line class="l" x1="456.7" y1="729.2" x2="400.0" y2="707.0"/>
<circle class="b" cx="464.0" cy="732.0" r="7.8"/>
<text class="t" transform="translate(464.0,737.3) scale(0.5,1)">70</text>
<line class="l" x1="463.6" y1="785.6" x2="439.0" y2="811.0"/>
<circle class="b" cx="469.0" cy="780.0" r="7.8"/>
<text class="t" transform="translate(469.0,785.3) scale(0.5,1)">71</text>
<line class="l" x1="464.2" y1="842.1" x2="434.0" y2="880.6"/>
<circle class="b" cx="469.0" cy="836.0" r="7.8"/>
<text class="t" transform="translate(469.0,841.3) scale(0.5,1)">53</text>
<line class="l" x1="463.0" y1="890.0" x2="434.3" y2="914.0"/>
<circle class="b" cx="469.0" cy="885.0" r="7.8"/>
<text class="t" transform="translate(469.0,890.3) scale(0.5,1)">72</text>
<line class="l" x1="656.4" y1="642.3" x2="632.0" y2="648.0"/>
<circle class="b" cx="664.0" cy="640.5" r="7.8"/>
<text class="t" transform="translate(664.0,645.8) scale(0.5,1)">73</text>
<line class="l" x1="657.0" y1="692.4" x2="625.0" y2="708.0"/>
<circle class="b" cx="664.0" cy="689.0" r="7.8"/>
<text class="t" transform="translate(664.0,694.3) scale(0.5,1)">74</text>
<line class="l" x1="660.0" y1="741.7" x2="636.0" y2="782.0"/>
<circle class="b" cx="664.0" cy="735.0" r="7.8"/>
<text class="t" transform="translate(664.0,740.3) scale(0.5,1)">75</text>
<line class="l" x1="523.6" y1="687.9" x2="544.3" y2="675.0"/>
<circle class="b" cx="517.0" cy="692.0" r="7.8"/>
<text class="t" transform="translate(517.0,697.3) scale(0.5,1)">81</text>
<line class="l" x1="526.5" y1="792.6" x2="514.4" y2="784.4"/>
<circle class="b" cx="533.0" cy="797.0" r="7.8"/>
<text class="t" transform="translate(533.0,802.3) scale(0.5,1)">12</text>
<line class="l" x1="528.6" y1="810.5" x2="514.4" y2="789.6"/>
<circle class="b" cx="533.0" cy="817.0" r="7.8"/>
<text class="t" transform="translate(533.0,822.3) scale(0.5,1)">11</text>
<line class="l" x1="526.8" y1="836.2" x2="513.6" y2="826.0"/>
<circle class="b" cx="533.0" cy="841.0" r="7.8"/>
<text class="t" transform="translate(533.0,846.3) scale(0.5,1)">82</text>
<line class="l" x1="539.5" y1="858.0" x2="554.4" y2="828.0"/>
<circle cx="554.4" cy="828.0" r="1.3" fill="#111"/>
<circle class="b" cx="536.0" cy="865.0" r="7.8"/>
<text class="t" transform="translate(536.0,870.3) scale(0.5,1)">83</text>
<line class="l" x1="709.8" y1="758.9" x2="691.0" y2="766.6"/>
<circle class="b" cx="717.0" cy="756.0" r="7.8"/>
<text class="t" transform="translate(717.0,761.3) scale(0.5,1)">12</text>
<line class="l" x1="709.3" y1="777.8" x2="692.0" y2="775.0"/>
<circle class="b" cx="717.0" cy="779.0" r="7.8"/>
<text class="t" transform="translate(717.0,784.3) scale(0.5,1)">11</text>
<line class="l" x1="713.4" y1="804.4" x2="691.6" y2="810.0"/>
<circle class="b" cx="721.0" cy="802.5" r="7.8"/>
<text class="t" transform="translate(721.0,807.8) scale(0.5,1)">76</text>
<line class="l" x1="709.3" y1="839.9" x2="668.4" y2="815.0"/>
<circle cx="668.4" cy="815.0" r="1.3" fill="#111"/>
<circle class="b" cx="716.0" cy="844.0" r="7.8"/>
<text class="t" transform="translate(716.0,849.3) scale(0.5,1)">77</text>
<line class="l" x1="710.7" y1="894.7" x2="712.4" y2="875.0"/>
<circle class="b" cx="710.0" cy="902.5" r="7.8"/>
<text class="t" transform="translate(710.0,907.8) scale(0.5,1)">78</text>
<line class="l" x1="696.2" y1="923.2" x2="685.0" y2="894.0"/>
<circle class="b" cx="699.0" cy="930.5" r="7.8"/>
<text class="t" transform="translate(699.0,935.8) scale(0.5,1)">79</text>
<line class="l" x1="675.7" y1="950.3" x2="632.0" y2="934.2"/>
<circle cx="632.0" cy="934.2" r="1.3" fill="#111"/>
<circle class="b" cx="683.0" cy="953.0" r="7.8"/>
<text class="t" transform="translate(683.0,958.3) scale(0.5,1)">80</text>
<line class="l" x1="661.2" y1="985.4" x2="623.8" y2="982.4"/>
<circle class="b" cx="669.0" cy="986.0" r="7.8"/>
<text class="t" transform="translate(669.0,991.3) scale(0.5,1)">55</text>
<line class="l" x1="264.9" y1="671.3" x2="286.0" y2="724.6"/>
<circle class="b" cx="262.0" cy="664.0" r="7.8"/>
<text class="t" transform="translate(262.0,669.3) scale(0.5,1)">84</text>
<line class="l" x1="278.7" y1="848.3" x2="272.0" y2="809.0"/>
<circle class="b" cx="280.0" cy="856.0" r="7.8"/>
<text class="t" transform="translate(280.0,861.3) scale(0.5,1)">85</text>
<line class="l" x1="272.6" y1="887.3" x2="225.0" y2="837.0"/>
<circle cx="225.0" cy="837.0" r="1.3" fill="#111"/>
<circle class="b" cx="278.0" cy="893.0" r="7.8"/>
<text class="t" transform="translate(278.0,898.3) scale(0.5,1)">86</text>
<line class="l" x1="371.7" y1="842.9" x2="364.0" y2="810.0"/>
<circle class="b" cx="373.5" cy="850.5" r="7.8"/>
<text class="t" transform="translate(373.5,855.8) scale(0.5,1)">87</text>
<line class="l" x1="370.0" y1="871.0" x2="346.0" y2="823.4"/>
<circle class="b" cx="373.5" cy="878.0" r="7.8"/>
<text class="t" transform="translate(373.5,883.3) scale(0.5,1)">88</text>
<line class="l" x1="370.0" y1="903.5" x2="319.3" y2="852.4"/>
<circle cx="319.3" cy="852.4" r="1.3" fill="#111"/>
<circle class="b" cx="375.5" cy="909.0" r="7.8"/>
<text class="t" transform="translate(375.5,914.3) scale(0.5,1)">89</text>
<line class="l" x1="366.4" y1="945.7" x2="275.0" y2="924.2"/>
<circle cx="275.0" cy="924.2" r="1.3" fill="#111"/>
<circle class="b" cx="374.0" cy="947.5" r="7.8"/>
<text class="t" transform="translate(374.0,952.8) scale(0.5,1)">90</text>
<line class="l" x1="73.9" y1="594.2" x2="102.5" y2="665.0"/>
<circle cx="102.5" cy="665.0" r="1.3" fill="#111"/>
<circle class="b" cx="71.0" cy="587.0" r="7.8"/>
<text class="t" transform="translate(71.0,592.3) scale(0.5,1)">91</text>
<line class="l" x1="30.5" y1="634.0" x2="43.8" y2="660.0"/>
<circle cx="43.8" cy="660.0" r="1.3" fill="#111"/>
<circle class="b" cx="27.0" cy="627.0" r="7.8"/>
<text class="t" transform="translate(27.0,632.3) scale(0.5,1)">92</text>
<line class="l" x1="23.5" y1="708.3" x2="96.8" y2="757.2"/>
<circle class="b" cx="17.0" cy="704.0" r="7.8"/>
<text class="t" transform="translate(17.0,709.3) scale(0.5,1)">93</text>
<line class="l" x1="15.1" y1="807.5" x2="30.6" y2="753.0"/>
<circle class="b" cx="13.0" cy="815.0" r="7.8"/>
<text class="t" transform="translate(13.0,820.3) scale(0.5,1)">94</text>
<line class="l" x1="19.4" y1="878.1" x2="97.6" y2="824.4"/>
<circle class="b" cx="13.0" cy="882.5" r="7.8"/>
<text class="t" transform="translate(13.0,887.8) scale(0.5,1)">95</text>
<line class="l" x1="19.9" y1="947.4" x2="102.9" y2="903.6"/>
<circle cx="102.9" cy="903.6" r="1.3" fill="#111"/>
<circle class="b" cx="13.0" cy="951.0" r="7.8"/>
<text class="t" transform="translate(13.0,956.3) scale(0.5,1)">96</text>
<text class="wm" x="324.5" y="496.6" textLength="140" lengthAdjust="spacing">ИНТЕРНЕТ-</text>
<text class="wm" x="324.5" y="522.6" textLength="135.5" lengthAdjust="spacing">ЗАПЧАСТИ</text>
<g fill="none" stroke="#4d3b2a" stroke-width="1.35" stroke-linejoin="round" stroke-linecap="round">
<g transform="translate(293.6,505.4) rotate(-42.8)">
<path d="M-4,-5.6 L24,-5.6 A5.6,5.6 0 0 1 24,5.6 L4,5.6" stroke-width="2.6" stroke-linecap="butt" stroke-dasharray=".75 1.55"/>
<path d="M-4,-4.4 L24,-4.4 A4.4,4.4 0 0 1 24,4.4 L-2,4.4 Z" fill="#fff"/>
<path d="M-1,-2.2 L23.4,-2.2 A2.2,2.2 0 0 1 23.4,2.2 L-1,2.2"/>
</g>
<path d="M275.7,502.3 L278.2,499.3 L280.2,499.4 L281.2,501"/>
<path d="M285.5,501.7 C286.3,501.2 287.5,501.9 288.3,502.7 L296.1,510.9 C296.9,512.1 297.1,514.1 296.1,515.8 L294.5,517.4 L294.9,520.6 L289.6,527.2 C288.3,528.4 286.7,528 285.9,526.3 L285.1,525.5 L283.4,525.1 L276.1,516.6 C275.3,515.3 275.3,514.1 276.1,513.1 L283.4,503.1 C284,502.3 284.7,501.9 285.5,501.7 Z" fill="#fff"/>
<rect x="283.5" y="508.4" width="4" height="12" rx="2"/>
<circle cx="293.1" cy="514" r=".6" fill="#4d3b2a"/>
</g>
<rect x=".5" y=".5" width="735" height="999" fill="none" stroke="#f1f3f5" stroke-width="1"/>
</svg>
</body></html>
